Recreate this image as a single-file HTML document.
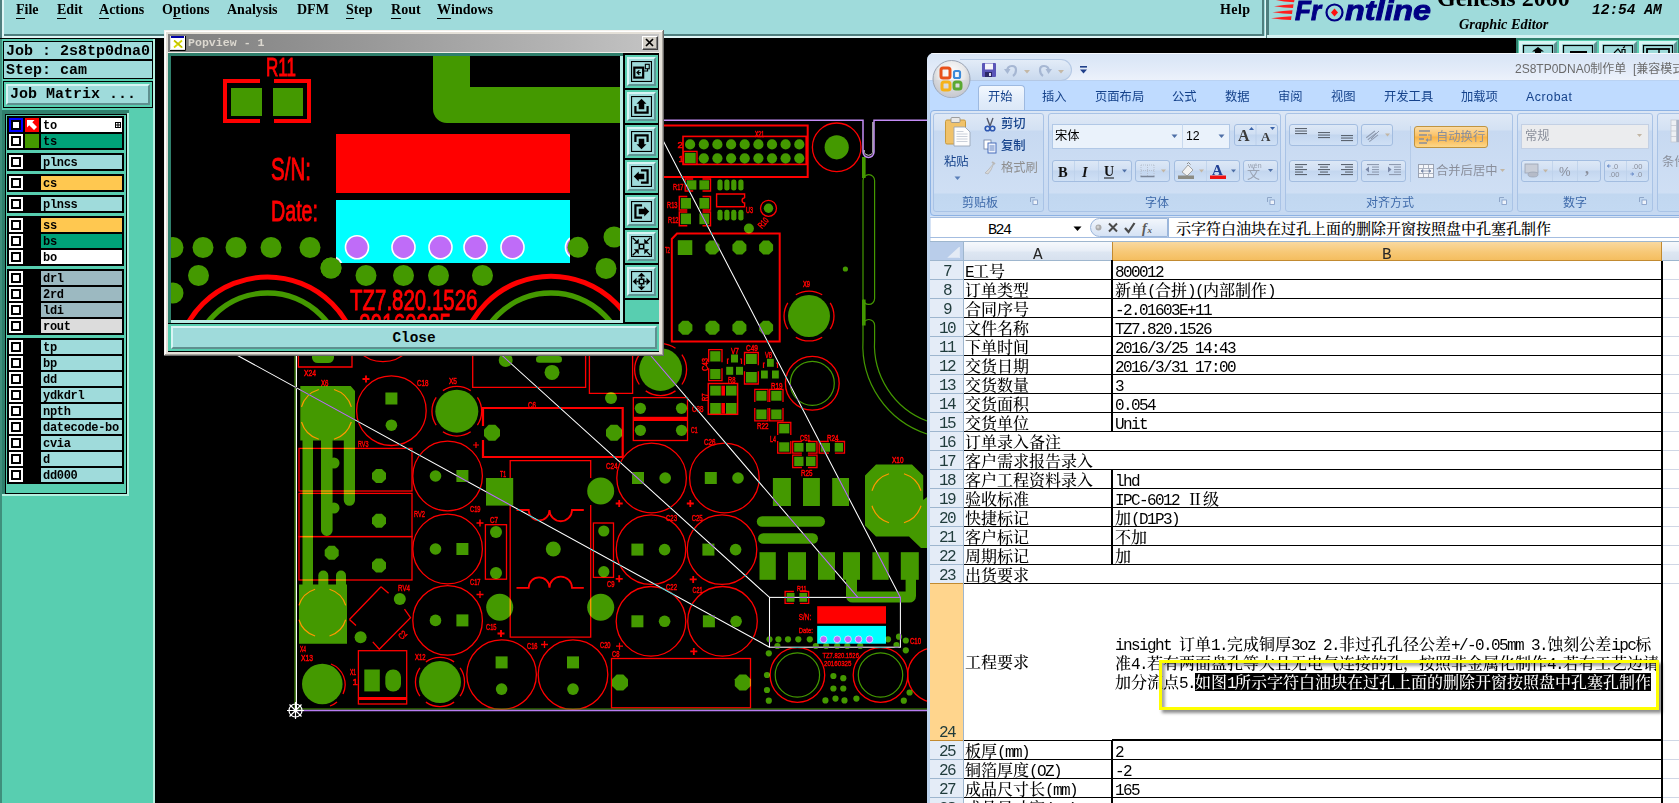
<!DOCTYPE html>
<html lang="zh">
<head>
<meta charset="utf-8">
<title>Genesis 2000 Graphic Editor</title>
<style>
html,body{margin:0;padding:0;background:#000;}
body{width:1679px;height:803px;position:relative;overflow:hidden;font-family:"Liberation Sans","Noto Sans CJK SC",sans-serif;}
.abs{position:absolute;}
div,span,i,b{box-sizing:border-box;}
/* ---------- Genesis menu bar ---------- */
#menubar{position:absolute;left:0;top:0;width:1265px;height:38px;background:#9fdbdb;}
#menubar .m{position:absolute;top:1px;font:bold 14px/18px "Liberation Serif",serif;color:#000;white-space:nowrap;}
#menubar .m u{text-decoration:none;border-bottom:1px solid #000;padding-bottom:0;display:inline-block;line-height:17px;}
#fl{position:absolute;left:1265px;top:0;width:414px;height:38px;background:#9fdbdb;overflow:hidden;}
/* ---------- left panel ---------- */
#left{position:absolute;left:0;top:38px;width:155px;height:765px;background:#58ceb0;overflow:hidden;}
.mono{font-family:"Liberation Mono","DejaVu Sans Mono",monospace;font-weight:bold;color:#000;white-space:nowrap;}
.lay{position:absolute;left:7px;width:117px;background:#000;}
.row{position:absolute;left:0;width:117px;height:14px;}
.row .cb{position:absolute;left:2px;top:0;width:14px;height:14px;background:#fff;}
.row .cb i{position:absolute;left:2px;top:2px;width:10px;height:10px;border:2px solid #000;background:#fff;}
.row .sw{position:absolute;left:18px;top:0;width:14px;height:14px;}
.row .nm{position:absolute;left:34px;top:0;width:81px;height:14px;background:#9fdbdb;font:bold 12px/16px "Liberation Mono",monospace;letter-spacing:-0.3px;padding-left:2px;color:#000;overflow:hidden;white-space:nowrap;}
/* ---------- popview ---------- */
#pop{position:absolute;left:164px;top:30px;width:500px;height:326px;background:#e4e0d8;}
.tb{position:absolute;left:461px;width:33px;height:33px;background:#58ceb0;}
.tb b{position:absolute;left:2px;top:2px;width:29px;height:29px;background:#9fdbdb;border:2px solid;border-color:#d8f4f4 #5f9494 #5f9494 #d8f4f4;}
.tb svg{position:absolute;left:6px;top:6px;}
/* ---------- excel ---------- */
#xl{position:absolute;left:927px;top:53px;width:752px;height:750px;background:#bfdbff;border-top-left-radius:7px;overflow:hidden;font-family:"Liberation Sans","Noto Sans CJK SC",sans-serif;}
.sim{font-family:"Liberation Mono","Noto Serif CJK SC",serif;}
</style>
</head>
<body>
<svg id="pcb" class="abs" style="left:0;top:0" width="1679" height="803" viewBox="0 0 1679 803">
<rect width="1679" height="803" fill="#000"/>
<g font-family="Liberation Sans, sans-serif">
<path d="M312 356H334V358A6 6 0 0 1 328 363H318A6 6 0 0 1 312 358Z" fill="#449900"/>
<path d="M300.3 386H350.7L355 391V500.2A5.6 5.6 0 0 1 343.800 500.2V440.5H332.6V530.2A5.800 5.800 0 0 1 321 530.2V440.5H313V584.5H347V643.7H299V584.5H302.5V440.5H300.3Z" fill="#449900"/>
<circle cx="334.0" cy="463.0" r="5.5" fill="#449900" />
<circle cx="334.0" cy="508.0" r="5.5" fill="#449900" />
<path d="M318.3 585V575.5A5 5 0 0 1 328.3 575.5V585Z" fill="#449900"/><path d="M336 585V575.5A5 5 0 0 1 346 575.5V585Z" fill="#449900"/>
<polygon points="386.0,478.9 381.9,483.0 376.1,483.0 372.0,478.9 372.0,473.1 376.1,469.0 381.9,469.0 386.0,473.1" fill="#449900"/>
<polygon points="386.0,523.6 381.9,527.7 376.1,527.7 372.0,523.6 372.0,517.8 376.1,513.7 381.9,513.7 386.0,517.8" fill="#449900"/>
<polygon points="338.7,555.7 334.6,559.8 328.8,559.8 324.7,555.7 324.7,549.9 328.8,545.8 334.6,545.8 338.7,549.9" fill="#449900"/>
<polygon points="386.0,568.4 381.9,572.5 376.1,572.5 372.0,568.4 372.0,562.6 376.1,558.5 381.9,558.5 386.0,562.6" fill="#449900"/>
<circle cx="322.3" cy="684.0" r="20.3" fill="#449900" />
<circle cx="440.0" cy="682.0" r="21.0" fill="#449900" />
<circle cx="456.8" cy="411.2" r="21.5" fill="#449900" />
<circle cx="399.8" cy="599.0" r="6.0" fill="#449900" />
<circle cx="360.6" cy="637.2" r="6.0" fill="#449900" />
<rect x="364.3" y="669.5" width="15.5" height="21.9" fill="#449900" />
<rect x="385.3" y="669.5" width="15.700" height="21.900" rx="7.500" fill="#449900"/>
<rect x="385.4" y="392.5" width="12.0" height="12.0" fill="#449900" />
<circle cx="391.4" cy="425.2" r="5.8" fill="#449900" />
<circle cx="435.5" cy="476.0" r="5.8" fill="#449900" />
<rect x="456.4" y="470.0" width="12.0" height="12.0" fill="#449900" />
<circle cx="435.5" cy="549.0" r="5.8" fill="#449900" />
<rect x="456.4" y="543.0" width="12.0" height="12.0" fill="#449900" />
<circle cx="435.5" cy="620.4" r="5.8" fill="#449900" />
<rect x="456.4" y="614.4" width="12.0" height="12.0" fill="#449900" />
<rect x="495.6" y="656.4" width="12.0" height="12.0" fill="#449900" />
<circle cx="501.6" cy="689.1" r="5.8" fill="#449900" />
<rect x="567.0" y="656.4" width="12.0" height="12.0" fill="#449900" />
<circle cx="573.0" cy="689.1" r="5.8" fill="#449900" />
<rect x="632.0" y="472.0" width="12.0" height="12.0" fill="#449900" />
<circle cx="665.2" cy="478.0" r="5.8" fill="#449900" />
<rect x="704.8" y="472.0" width="12.0" height="12.0" fill="#449900" />
<circle cx="738.0" cy="478.0" r="5.8" fill="#449900" />
<rect x="631.4" y="543.6" width="12.0" height="12.0" fill="#449900" />
<circle cx="664.6" cy="549.6" r="5.8" fill="#449900" />
<rect x="702.4" y="543.6" width="12.0" height="12.0" fill="#449900" />
<circle cx="735.6" cy="549.6" r="5.8" fill="#449900" />
<rect x="631.4" y="615.3" width="12.0" height="12.0" fill="#449900" />
<circle cx="664.6" cy="621.3" r="5.8" fill="#449900" />
<rect x="702.9" y="615.3" width="12.0" height="12.0" fill="#449900" />
<circle cx="736.1" cy="621.3" r="5.8" fill="#449900" />
<rect x="486.0" y="478.0" width="27.2" height="27.6" fill="#449900" />
<circle cx="600.7" cy="491.0" r="13.5" fill="#449900" />
<circle cx="499.7" cy="607.3" r="13.5" fill="#449900" />
<circle cx="600.7" cy="607.3" r="13.5" fill="#449900" />
<circle cx="553.3" cy="549.0" r="7.5" fill="#449900" />
<circle cx="496.0" cy="532.0" r="6.0" fill="#449900" />
<circle cx="496.0" cy="573.0" r="6.0" fill="#449900" />
<circle cx="603.8" cy="531.0" r="5.6" fill="#449900" />
<circle cx="603.8" cy="571.7" r="5.6" fill="#449900" />
<polygon points="500.0,436.0 495.3,440.7 488.7,440.7 484.0,436.0 484.0,429.4 488.7,424.7 495.3,424.7 500.0,429.4" fill="#449900"/>
<polygon points="622.0,436.0 617.3,440.7 610.7,440.7 606.0,436.0 606.0,429.4 610.7,424.7 617.3,424.7 622.0,429.4" fill="#449900"/>
<circle cx="505.7" cy="360.0" r="7.0" fill="#449900" />
<rect x="536" y="356" width="26" height="6.700" rx="3.300" fill="#449900"/>
<circle cx="552.0" cy="372.4" r="7.5" fill="#449900" />
<circle cx="611.0" cy="398.0" r="6.0" fill="#449900" />
<circle cx="640.4" cy="408.3" r="5.6" fill="#449900" />
<circle cx="640.4" cy="430.3" r="5.6" fill="#449900" />
<circle cx="681.5" cy="408.3" r="5.6" fill="#449900" />
<circle cx="681.5" cy="430.3" r="5.6" fill="#449900" />
<circle cx="660.6" cy="369.6" r="21.4" fill="#449900" />
<circle cx="809.0" cy="316.0" r="21.0" fill="#449900" />
<circle cx="836.7" cy="147.3" r="12.1" fill="#449900" />
<circle cx="845.4" cy="269.0" r="2.6" fill="#449900" />
<polygon points="628.0,685.9 623.3,690.6 616.7,690.6 612.0,685.9 612.0,679.3 616.7,674.6 623.3,674.6 628.0,679.3" fill="#449900"/>
<polygon points="750.8,685.9 746.1,690.6 739.5,690.6 734.8,685.9 734.8,679.3 739.5,674.6 746.1,674.6 750.8,679.3" fill="#449900"/>
<circle cx="690.1" cy="144.4" r="5.1" fill="#449900" />
<circle cx="703.8" cy="144.4" r="5.1" fill="#449900" />
<circle cx="703.8" cy="158.3" r="5.1" fill="#449900" />
<circle cx="717.4" cy="144.4" r="5.1" fill="#449900" />
<circle cx="717.4" cy="158.3" r="5.1" fill="#449900" />
<circle cx="731.1" cy="144.4" r="5.1" fill="#449900" />
<circle cx="731.1" cy="158.3" r="5.1" fill="#449900" />
<circle cx="744.7" cy="144.4" r="5.1" fill="#449900" />
<circle cx="744.7" cy="158.3" r="5.1" fill="#449900" />
<circle cx="758.4" cy="144.4" r="5.1" fill="#449900" />
<circle cx="758.4" cy="158.3" r="5.1" fill="#449900" />
<circle cx="772.0" cy="144.4" r="5.1" fill="#449900" />
<circle cx="772.0" cy="158.3" r="5.1" fill="#449900" />
<circle cx="785.6" cy="144.4" r="5.1" fill="#449900" />
<circle cx="785.6" cy="158.3" r="5.1" fill="#449900" />
<circle cx="799.3" cy="144.4" r="5.1" fill="#449900" />
<circle cx="799.3" cy="158.3" r="5.1" fill="#449900" />
<rect x="684.9" y="152.8" width="10.8" height="10.3" fill="#449900" />
<rect x="686.7" y="180.3" width="9.7" height="9.3" fill="#449900" />
<rect x="699.4" y="180.3" width="9.7" height="9.3" fill="#449900" />
<rect x="680.8" y="198.0" width="10.2" height="10.7" fill="#449900" />
<rect x="699.4" y="198.0" width="9.7" height="10.7" fill="#449900" />
<rect x="680.8" y="213.5" width="10.2" height="10.7" fill="#449900" />
<rect x="699.4" y="213.5" width="9.7" height="10.7" fill="#449900" />
<rect x="717.4" y="179.400" width="5.200" height="11.200" rx="2.400" fill="#449900"/>
<rect x="717.4" y="209.800" width="5.200" height="10.800" rx="2.400" fill="#449900"/>
<rect x="724.3" y="179.400" width="5.200" height="11.200" rx="2.400" fill="#449900"/>
<rect x="724.3" y="209.800" width="5.200" height="10.800" rx="2.400" fill="#449900"/>
<rect x="731.2" y="179.400" width="5.200" height="11.200" rx="2.400" fill="#449900"/>
<rect x="731.2" y="209.800" width="5.200" height="10.800" rx="2.400" fill="#449900"/>
<rect x="738.3" y="179.400" width="5.200" height="11.200" rx="2.400" fill="#449900"/>
<rect x="738.3" y="209.800" width="5.200" height="10.800" rx="2.400" fill="#449900"/>
<circle cx="768.5" cy="208.3" r="4.7" fill="#449900" />
<circle cx="748.9" cy="228.5" r="5.0" fill="#449900" />
<rect x="677.8" y="240.2" width="14.5" height="14.8" fill="#449900" />
<polygon points="719.5,250.5 715.4,254.6 709.6,254.6 705.5,250.5 705.5,244.7 709.6,240.6 715.4,240.6 719.5,244.7" fill="#449900"/>
<polygon points="746.4,250.5 742.3,254.6 736.5,254.6 732.4,250.5 732.4,244.7 736.5,240.6 742.3,240.6 746.4,244.7" fill="#449900"/>
<polygon points="773.1,250.5 769.0,254.6 763.2,254.6 759.1,250.5 759.1,244.7 763.2,240.6 769.0,240.6 773.1,244.7" fill="#449900"/>
<polygon points="692.4,330.6 688.3,334.7 682.5,334.7 678.4,330.6 678.4,324.8 682.5,320.7 688.3,320.7 692.4,324.8" fill="#449900"/>
<polygon points="719.5,330.6 715.4,334.7 709.6,334.7 705.5,330.6 705.5,324.8 709.6,320.7 715.4,320.7 719.5,324.8" fill="#449900"/>
<polygon points="746.4,330.6 742.3,334.7 736.5,334.7 732.4,330.6 732.4,324.8 736.5,320.7 742.3,320.7 746.4,324.8" fill="#449900"/>
<polygon points="773.1,330.6 769.0,334.7 763.2,334.7 759.1,330.6 759.1,324.8 763.2,320.7 769.0,320.7 773.1,324.8" fill="#449900"/>
<rect x="710.2" y="351.2" width="10.2" height="10.3" fill="#449900" />
<rect x="710.2" y="369.0" width="10.2" height="10.2" fill="#449900" />
<rect x="731.0" y="354.5" width="7.0" height="8.0" fill="#449900" />
<rect x="726.2" y="366.8" width="7.0" height="8.0" fill="#449900" />
<rect x="736.0" y="366.8" width="7.0" height="8.0" fill="#449900" />
<rect x="746.0" y="354.0" width="10.8" height="10.0" fill="#449900" />
<rect x="746.0" y="372.0" width="10.8" height="10.6" fill="#449900" />
<rect x="767.0" y="358.8" width="6.8" height="8.0" fill="#449900" />
<rect x="761.0" y="370.5" width="6.8" height="8.0" fill="#449900" />
<rect x="772.0" y="370.5" width="6.8" height="8.0" fill="#449900" />
<rect x="710.2" y="385.7" width="10.6" height="9.9" fill="#449900" />
<rect x="726.0" y="385.7" width="10.5" height="9.9" fill="#449900" />
<rect x="710.2" y="403.0" width="10.6" height="10.7" fill="#449900" />
<rect x="726.0" y="403.0" width="10.5" height="10.7" fill="#449900" />
<rect x="756.3" y="390.8" width="10.2" height="9.9" fill="#449900" />
<rect x="756.3" y="409.5" width="10.2" height="9.8" fill="#449900" />
<rect x="771.2" y="390.8" width="10.3" height="9.9" fill="#449900" />
<rect x="771.2" y="409.5" width="10.3" height="9.8" fill="#449900" />
<rect x="779.2" y="424.0" width="10.1" height="9.4" fill="#449900" />
<rect x="779.2" y="442.3" width="10.1" height="9.4" fill="#449900" />
<rect x="794.2" y="443.0" width="9.3" height="8.7" fill="#449900" />
<rect x="806.0" y="443.0" width="9.5" height="8.7" fill="#449900" />
<rect x="794.2" y="456.7" width="9.3" height="9.3" fill="#449900" />
<rect x="806.0" y="456.7" width="9.5" height="9.3" fill="#449900" />
<rect x="820.7" y="443.0" width="9.3" height="8.7" fill="#449900" />
<rect x="834.7" y="443.0" width="8.3" height="8.7" fill="#449900" />
<rect x="772.9" y="478.0" width="18.0" height="28.0" fill="#449900" />
<rect x="803.0" y="478.0" width="16.9" height="28.0" fill="#449900" />
<rect x="832.2" y="478.0" width="16.8" height="28.0" fill="#449900" />
<rect x="756.800" y="516.200" width="68.200" height="10.600" rx="5.300" fill="#449900"/>
<rect x="758" y="533.200" width="60" height="10.600" rx="5.300" fill="#449900"/>
<rect x="759.5" y="552.2" width="16.3" height="27.6" fill="#449900" />
<rect x="788.0" y="552.2" width="18.0" height="27.6" fill="#449900" />
<rect x="818.0" y="552.2" width="17.0" height="27.6" fill="#449900" />
<rect x="843.0" y="552.2" width="17.0" height="27.6" fill="#449900" />
<rect x="872.4" y="552.2" width="16.3" height="27.6" fill="#449900" />
<rect x="900.8" y="552.2" width="18.0" height="27.6" fill="#449900" />
<path d="M846 578V596A6.600 6.600 0 0 0 852.600 602.600H909.400A6.600 6.600 0 0 0 916 596V578H905.600V591.400H857V578Z" fill="#449900"/>
<polygon points="876,464.4 912,464.4 923.2,475.600 923.2,500 927,497 927,548 921,548 909,536.4 876,536.4 865,525.400 865,475.600" fill="#449900"/>
<rect x="786.6" y="593.0" width="7.9" height="8.8" fill="#449900" />
<rect x="799.4" y="593.0" width="7.8" height="8.8" fill="#449900" />
<circle cx="769.5" cy="639.3" r="3.1" fill="#449900" />
<circle cx="778.4" cy="639.3" r="3.1" fill="#449900" />
<circle cx="788.0" cy="639.3" r="3.1" fill="#449900" />
<circle cx="798.3" cy="639.3" r="3.1" fill="#449900" />
<circle cx="809.8" cy="639.3" r="3.1" fill="#449900" />
<circle cx="888.0" cy="639.3" r="3.1" fill="#449900" />
<circle cx="899.0" cy="636.7" r="3.1" fill="#449900" />
<circle cx="905.8" cy="640.5" r="3.1" fill="#449900" />
<circle cx="777.4" cy="646.0" r="3.1" fill="#449900" />
<circle cx="815.8" cy="646.0" r="3.1" fill="#449900" />
<circle cx="826.2" cy="646.0" r="3.1" fill="#449900" />
<circle cx="837.2" cy="646.0" r="3.1" fill="#449900" />
<circle cx="847.3" cy="646.0" r="3.1" fill="#449900" />
<circle cx="860.2" cy="646.0" r="3.1" fill="#449900" />
<circle cx="896.5" cy="645.0" r="3.1" fill="#449900" />
<circle cx="905.8" cy="650.3" r="3.1" fill="#449900" />
<circle cx="768.8" cy="653.3" r="3.1" fill="#449900" />
<circle cx="767.0" cy="675.0" r="3.1" fill="#449900" />
<circle cx="767.0" cy="690.0" r="3.1" fill="#449900" />
<circle cx="768.8" cy="700.7" r="3.1" fill="#449900" />
<circle cx="833.4" cy="676.0" r="3.1" fill="#449900" />
<circle cx="843.3" cy="678.2" r="3.1" fill="#449900" />
<circle cx="833.4" cy="688.5" r="3.1" fill="#449900" />
<circle cx="843.3" cy="688.5" r="3.1" fill="#449900" />
<circle cx="825.4" cy="700.4" r="3.1" fill="#449900" />
<circle cx="835.5" cy="698.6" r="3.1" fill="#449900" />
<circle cx="844.5" cy="700.4" r="3.1" fill="#449900" />
<circle cx="856.4" cy="698.6" r="3.1" fill="#449900" />
<circle cx="909.6" cy="692.5" r="3.1" fill="#449900" />
<circle cx="903.8" cy="700.7" r="3.1" fill="#449900" />
<circle cx="812.3" cy="383.3" r="22.0" fill="none" stroke="#449900" stroke-width="1.2"/>
<circle cx="797.4" cy="675.0" r="22.2" fill="none" stroke="#449900" stroke-width="1.2"/>
<circle cx="880.5" cy="675.0" r="22.2" fill="none" stroke="#449900" stroke-width="1.2"/>
<rect x="863" y="174.700" width="11.600" height="129.700" rx="5.800" fill="none" stroke="#449900" stroke-width="1.200"/>
<rect x="862.0" y="157.0" width="3.6" height="21.0" fill="#449900" />
<rect x="862.0" y="299.5" width="3.6" height="26.0" fill="#449900" />
<path d="M874.6 340V325.300A5.800 5.800 0 0 0 863 325.300V340" fill="none" stroke="#449900" stroke-width="1.2" />
<path d="M863 340A93.300 93.300 0 0 0 927 434" fill="none" stroke="#449900" stroke-width="1.2" />
<path d="M874.6 340A81.700 81.700 0 0 0 927 421" fill="none" stroke="#449900" stroke-width="1.2" />
<g style="mix-blend-mode:lighten">
<path d="M298.4 356V367H352V356" fill="none" stroke="#ff0000" stroke-width="1.3" />
<path d="M351.3 422.0A26 26 0 0 1 334.0 439.3M318.8 439.3A26 26 0 0 1 301.5 422.0M301.5 406.8A26 26 0 0 1 318.8 389.5M334.0 389.5A26 26 0 0 1 351.3 406.8" fill="none" stroke="#ff0000" stroke-width="1.2" />
<path d="M345.7 619.8A24.5 24.5 0 0 1 329.5 636.0M315.1 636.0A24.5 24.5 0 0 1 298.9 619.8M298.9 605.4A24.5 24.5 0 0 1 315.1 589.2M329.5 589.2A24.5 24.5 0 0 1 345.7 605.4" fill="none" stroke="#ff0000" stroke-width="1.2" />
<path d="M921.0 505.7A25.6 25.6 0 0 1 904.0 522.7M889.0 522.7A25.6 25.6 0 0 1 872.0 505.7M872.0 490.7A25.6 25.6 0 0 1 889.0 473.7M904.0 473.7A25.6 25.6 0 0 1 921.0 490.7" fill="none" stroke="#ff0000" stroke-width="1.2" />
<rect x="299.0" y="448.4" width="113.0" height="42.6" fill="none" stroke="#ff0000" stroke-width="1.3" />
<rect x="299.0" y="493.4" width="113.0" height="43.2" fill="none" stroke="#ff0000" stroke-width="1.3" />
<rect x="299.0" y="536.6" width="113.0" height="43.4" fill="none" stroke="#ff0000" stroke-width="1.3" />
<path d="M381 586.800L349.400 619.500M381 586.800L388.600 593.300M404.500 609.200L410.500 617.600L379.300 649.300L372.800 641.900M349.400 619.500L356 625.500" fill="none" stroke="#ff0000" stroke-width="1.3" />
<rect x="358.4" y="650.7" width="48.3" height="53.3" fill="none" stroke="#ff0000" stroke-width="1.3" />
<path d="M358.400 698.500H406.700" fill="none" stroke="#ff0000" stroke-width="3" />
<path d="M331 664A22 22 0 0 1 343 694" fill="none" stroke="#ff0000" stroke-width="1.3" />
<path d="M337 702A22 22 0 0 1 330 706" fill="none" stroke="#ff0000" stroke-width="1.3" />
<path d="M460.1 667.9A24.5 24.5 0 0 1 460.1 696.1M454.1 702.1A24.5 24.5 0 0 1 425.9 702.1M419.9 696.1A24.5 24.5 0 0 1 419.9 667.9M425.9 661.9A24.5 24.5 0 0 1 454.1 661.9" fill="none" stroke="#ff0000" stroke-width="1.3" />
<path d="M477.4 397.3A24.8 24.8 0 0 1 477.4 425.1M470.7 431.8A24.8 24.8 0 0 1 442.9 431.8M436.2 425.1A24.8 24.8 0 0 1 436.2 397.3M442.9 390.6A24.8 24.8 0 0 1 470.7 390.6" fill="none" stroke="#ff0000" stroke-width="1.3" />
<path d="M681.9 354.7A26 26 0 0 1 681.9 384.5M675.5 390.9A26 26 0 0 1 645.7 390.9M639.3 384.5A26 26 0 0 1 639.3 354.7M645.7 348.3A26 26 0 0 1 675.5 348.3" fill="none" stroke="#ff0000" stroke-width="1.3" />
<path d="M830.2 302.8A25 25 0 0 1 830.2 329.2M822.2 337.2A25 25 0 0 1 795.8 337.2M787.8 329.2A25 25 0 0 1 787.8 302.8M795.8 294.8A25 25 0 0 1 822.2 294.8" fill="none" stroke="#ff0000" stroke-width="1.3" />
<circle cx="391.4" cy="410.7" r="34.8" fill="none" stroke="#ff0000" stroke-width="1.3"/>
<circle cx="447.6" cy="476.0" r="34.8" fill="none" stroke="#ff0000" stroke-width="1.3"/>
<circle cx="447.6" cy="549.0" r="34.8" fill="none" stroke="#ff0000" stroke-width="1.3"/>
<circle cx="447.6" cy="620.4" r="34.8" fill="none" stroke="#ff0000" stroke-width="1.3"/>
<circle cx="501.6" cy="674.6" r="34.8" fill="none" stroke="#ff0000" stroke-width="1.3"/>
<circle cx="573.0" cy="674.6" r="34.8" fill="none" stroke="#ff0000" stroke-width="1.3"/>
<circle cx="651.6" cy="478.0" r="34.8" fill="none" stroke="#ff0000" stroke-width="1.3"/>
<circle cx="724.4" cy="478.0" r="34.8" fill="none" stroke="#ff0000" stroke-width="1.3"/>
<circle cx="651.0" cy="549.6" r="34.8" fill="none" stroke="#ff0000" stroke-width="1.3"/>
<circle cx="722.0" cy="549.6" r="34.8" fill="none" stroke="#ff0000" stroke-width="1.3"/>
<circle cx="651.0" cy="621.3" r="34.8" fill="none" stroke="#ff0000" stroke-width="1.3"/>
<circle cx="722.5" cy="621.3" r="34.8" fill="none" stroke="#ff0000" stroke-width="1.3"/>
<circle cx="383.0" cy="326.8" r="34.8" fill="none" stroke="#ff0000" stroke-width="1.3"/>
<path d="M472.700 356V387.300H585.600V356" fill="none" stroke="#ff0000" stroke-width="1.3" />
<path d="M589.400 356V393.400H632.600V356" fill="none" stroke="#ff0000" stroke-width="1.3" />
<path d="M483 426V408H622.700V457H483V440" fill="none" stroke="#ff0000" stroke-width="2.2" />
<path d="M510.200 478V460.600H590.700V478M590.700 505V637.200H510.200V505.600" fill="none" stroke="#ff0000" stroke-width="1.3" />
<path d="M516.500 510H528.700A10.400 10.400 0 0 0 549.500 510A11.200 11.200 0 0 0 572 510H583.800" fill="none" stroke="#ff0000" stroke-width="1.8" />
<path d="M516.500 587.800H528.700A10.400 10.400 0 0 1 549.500 587.800A11.200 11.200 0 0 1 572 587.800H583.800" fill="none" stroke="#ff0000" stroke-width="1.8" />
<rect x="485.4" y="524.7" width="21.1" height="54.5" fill="none" stroke="#ff0000" stroke-width="1.3" />
<rect x="593.4" y="523.0" width="20.1" height="54.4" fill="none" stroke="#ff0000" stroke-width="1.3" />
<rect x="633.3" y="397.6" width="54.2" height="42.9" fill="none" stroke="#ff0000" stroke-width="1.3" />
<rect x="633.3" y="416.8" width="54.2" height="4.2" fill="#ff0000" />
<rect x="611.5" y="658.5" width="139.0" height="49.3" fill="none" stroke="#ff0000" stroke-width="1.3" />
<circle cx="812.3" cy="383.3" r="26.9" fill="none" stroke="#ff0000" stroke-width="1.3"/>
<circle cx="797.4" cy="675.0" r="27.3" fill="none" stroke="#ff0000" stroke-width="1.3"/>
<circle cx="880.5" cy="675.0" r="27.3" fill="none" stroke="#ff0000" stroke-width="1.3"/>
<circle cx="935.0" cy="675.0" r="27.3" fill="none" stroke="#ff0000" stroke-width="1.3"/>
<circle cx="836.7" cy="147.3" r="24.3" fill="none" stroke="#ff0000" stroke-width="1.3"/>
<path d="M664 125.600H807.700V177.100H664" fill="none" stroke="#ff0000" stroke-width="2" />
<rect x="683.0" y="136.4" width="123.2" height="28.0" fill="none" stroke="#ff0000" stroke-width="1.6" />
<rect x="683.6" y="151.4" width="13.4" height="13.0" fill="none" stroke="#ff0000" stroke-width="1.3" />
<path d="M693.2 179H685.2V191H693.2M702.5 179H710.5V191H702.5" fill="none" stroke="#ff0000" stroke-width="1.4" />
<path d="M687.3 196.5H679.3V210H687.3M702.5 196.5H710.5V210H702.5" fill="none" stroke="#ff0000" stroke-width="1.4" />
<path d="M687.3 212H679.3V225.7H687.3M702.5 212H710.5V225.7H702.5" fill="none" stroke="#ff0000" stroke-width="1.4" />
<path d="M744.600 198V194H716.600V206.800H744.600V203A2.500 2.500 0 0 1 744.600 198" fill="none" stroke="#ff0000" stroke-width="1.4" />
<circle cx="768.5" cy="208.3" r="8.0" fill="none" stroke="#ff0000" stroke-width="1.3"/>
<path d="M677 233.600H779.700V341.400H671.800V239Z" fill="none" stroke="#ff0000" stroke-width="2" />
<path d="M708.7 362.2V349.7H722V362.2M708.7 368.2V380.7H722V368.2" fill="none" stroke="#ff0000" stroke-width="1.3" />
<path d="M744.5 365.2V352.5H758.3V365.2M744.5 371.2V384H758.3V371.2" fill="none" stroke="#ff0000" stroke-width="1.3" />
<path d="M729 359H727.500V364M740 359H741.500V364" fill="none" stroke="#ff0000" stroke-width="1.2" />
<path d="M765 363H763.500V368M776 363H777.500V368" fill="none" stroke="#ff0000" stroke-width="1.2" />
<rect x="708.3" y="383.5" width="29.3" height="30.8" fill="none" stroke="#ff0000" stroke-width="1.5" />
<rect x="721.4" y="385.7" width="3.6" height="9.9" fill="#ff0000" />
<rect x="721.4" y="403.0" width="3.6" height="10.7" fill="#ff0000" />
<path d="M754.8 402.1V389.3H768V402.1M754.8 408.1V420.8H768V408.1" fill="none" stroke="#ff0000" stroke-width="1.3" />
<path d="M769.7 402.1V389.3H783V402.1M769.7 408.1V420.8H783V408.1" fill="none" stroke="#ff0000" stroke-width="1.3" />
<path d="M777.7 434.9V422.5H790.8V434.9M777.7 440.9V453.2H790.8V440.9" fill="none" stroke="#ff0000" stroke-width="1.3" />
<path d="M801.9 441.5H792.7V453.2H801.9M807.9 441.5H817V453.2H807.9" fill="none" stroke="#ff0000" stroke-width="1.3" />
<path d="M801.9 455.2H792.7V467.5H801.9M807.9 455.2H817V467.5H807.9" fill="none" stroke="#ff0000" stroke-width="1.3" />
<path d="M828.9 441.5H819.2V453.2H828.9M834.9 441.5H844.5V453.2H834.9" fill="none" stroke="#ff0000" stroke-width="1.3" />
<path d="M793.9 591.5H785.1V603.3H793.9M799.9 591.5H808.7V603.3H799.9" fill="none" stroke="#ff0000" stroke-width="1.3" />
<rect x="817.2" y="606.2" width="68.8" height="17.4" fill="#ff0000" />
<rect x="817.2" y="625.9" width="68.8" height="17.8" fill="#00ffff" />
<circle cx="823.6" cy="639.3" r="3.4" fill="#bb66ff" stroke="#fff" stroke-width="0.600"/>
<circle cx="837.2" cy="639.3" r="3.4" fill="#bb66ff" stroke="#fff" stroke-width="0.600"/>
<circle cx="848.0" cy="639.3" r="3.4" fill="#bb66ff" stroke="#fff" stroke-width="0.600"/>
<circle cx="858.5" cy="639.3" r="3.4" fill="#bb66ff" stroke="#fff" stroke-width="0.600"/>
<circle cx="869.5" cy="639.3" r="3.4" fill="#bb66ff" stroke="#fff" stroke-width="0.600"/>
<text x="304" y="375.5" font-size="9" fill="#ff0000" stroke="#ff0000" stroke-width="0.5" textLength="12" lengthAdjust="spacingAndGlyphs">X24</text>
<text x="321" y="385.5" font-size="9" fill="#ff0000" stroke="#ff0000" stroke-width="0.5" textLength="7.5" lengthAdjust="spacingAndGlyphs">X6</text>
<text x="417" y="386" font-size="9" fill="#ff0000" stroke="#ff0000" stroke-width="0.5" textLength="11.5" lengthAdjust="spacingAndGlyphs">C18</text>
<text x="449" y="384" font-size="9" fill="#ff0000" stroke="#ff0000" stroke-width="0.5" textLength="8" lengthAdjust="spacingAndGlyphs">X5</text>
<text x="358" y="447" font-size="9" fill="#ff0000" stroke="#ff0000" stroke-width="0.5" textLength="10.5" lengthAdjust="spacingAndGlyphs">RV3</text>
<text x="414" y="516.5" font-size="9" fill="#ff0000" stroke="#ff0000" stroke-width="0.5" textLength="11" lengthAdjust="spacingAndGlyphs">RV2</text>
<text x="398" y="591" font-size="9" fill="#ff0000" stroke="#ff0000" stroke-width="0.5" textLength="12" lengthAdjust="spacingAndGlyphs">RV4</text>
<text x="470" y="512" font-size="9" fill="#ff0000" stroke="#ff0000" stroke-width="0.5" textLength="10.5" lengthAdjust="spacingAndGlyphs">C19</text>
<text x="470" y="585" font-size="9" fill="#ff0000" stroke="#ff0000" stroke-width="0.5" textLength="10.5" lengthAdjust="spacingAndGlyphs">C17</text>
<text x="486" y="630" font-size="9" fill="#ff0000" stroke="#ff0000" stroke-width="0.5" textLength="10.5" lengthAdjust="spacingAndGlyphs">C15</text>
<text x="527" y="649" font-size="9" fill="#ff0000" stroke="#ff0000" stroke-width="0.5" textLength="10.5" lengthAdjust="spacingAndGlyphs">C16</text>
<text x="490" y="523" font-size="9" fill="#ff0000" stroke="#ff0000" stroke-width="0.5" textLength="8" lengthAdjust="spacingAndGlyphs">C7</text>
<text x="528" y="408" font-size="9" fill="#ff0000" stroke="#ff0000" stroke-width="0.5" textLength="8" lengthAdjust="spacingAndGlyphs">C6</text>
<text x="500" y="477" font-size="9" fill="#ff0000" stroke="#ff0000" stroke-width="0.5" textLength="6" lengthAdjust="spacingAndGlyphs">T1</text>
<text x="300" y="651.5" font-size="9" fill="#ff0000" stroke="#ff0000" stroke-width="0.5" textLength="6" lengthAdjust="spacingAndGlyphs">X4</text>
<text x="301" y="661" font-size="9" fill="#ff0000" stroke="#ff0000" stroke-width="0.5" textLength="12" lengthAdjust="spacingAndGlyphs">X13</text>
<text x="415" y="660" font-size="9" fill="#ff0000" stroke="#ff0000" stroke-width="0.5" textLength="10.5" lengthAdjust="spacingAndGlyphs">X12</text>
<text x="350" y="675" font-size="8.5" fill="#ff0000" stroke="#ff0000" stroke-width="0.5" textLength="6" lengthAdjust="spacingAndGlyphs">X1</text>
<text x="352.5" y="684.5" font-size="9.5" fill="#ff0000" stroke="#ff0000" stroke-width="0.5">1</text>
<text x="402" y="640" font-size="9" fill="#ff0000" stroke="#ff0000" stroke-width="0.5" textLength="8" lengthAdjust="spacingAndGlyphs" transform="rotate(-45 402 640)">C2</text>
<text x="606" y="469" font-size="9" fill="#ff0000" stroke="#ff0000" stroke-width="0.5" textLength="11.5" lengthAdjust="spacingAndGlyphs">C24</text>
<text x="704" y="445" font-size="9" fill="#ff0000" stroke="#ff0000" stroke-width="0.5" textLength="11.5" lengthAdjust="spacingAndGlyphs">C26</text>
<text x="692" y="412" font-size="9" fill="#ff0000" stroke="#ff0000" stroke-width="0.5" textLength="11.5" lengthAdjust="spacingAndGlyphs">C38</text>
<text x="691" y="433" font-size="9" fill="#ff0000" stroke="#ff0000" stroke-width="0.5" textLength="6.5" lengthAdjust="spacingAndGlyphs">C1</text>
<text x="666" y="520.5" font-size="9" fill="#ff0000" stroke="#ff0000" stroke-width="0.5" textLength="11" lengthAdjust="spacingAndGlyphs">C23</text>
<text x="691.7" y="521" font-size="9" fill="#ff0000" stroke="#ff0000" stroke-width="0.5" textLength="11" lengthAdjust="spacingAndGlyphs">C25</text>
<text x="666" y="589.5" font-size="9" fill="#ff0000" stroke="#ff0000" stroke-width="0.5" textLength="11" lengthAdjust="spacingAndGlyphs">C22</text>
<text x="692.6" y="593" font-size="9" fill="#ff0000" stroke="#ff0000" stroke-width="0.5" textLength="10" lengthAdjust="spacingAndGlyphs">C21</text>
<text x="607" y="587" font-size="9" fill="#ff0000" stroke="#ff0000" stroke-width="0.5" textLength="7.5" lengthAdjust="spacingAndGlyphs">C9</text>
<text x="612" y="657" font-size="9" fill="#ff0000" stroke="#ff0000" stroke-width="0.5" textLength="7.5" lengthAdjust="spacingAndGlyphs">C8</text>
<text x="600" y="648" font-size="9" fill="#ff0000" stroke="#ff0000" stroke-width="0.5" textLength="10.5" lengthAdjust="spacingAndGlyphs">C20</text>
<text x="755" y="137" font-size="8.5" fill="#ff0000" stroke="#ff0000" stroke-width="0.5" textLength="9" lengthAdjust="spacingAndGlyphs">X21</text>
<text x="677.5" y="148" font-size="9.5" fill="#ff0000" stroke="#ff0000" stroke-width="0.5">2</text>
<text x="678.5" y="162" font-size="9.5" fill="#ff0000" stroke="#ff0000" stroke-width="0.5">1</text>
<text x="673" y="190" font-size="9" fill="#ff0000" stroke="#ff0000" stroke-width="0.5" textLength="10.5" lengthAdjust="spacingAndGlyphs">R17</text>
<text x="667" y="208" font-size="9" fill="#ff0000" stroke="#ff0000" stroke-width="0.5" textLength="10.5" lengthAdjust="spacingAndGlyphs">R13</text>
<text x="668" y="223" font-size="9" fill="#ff0000" stroke="#ff0000" stroke-width="0.5" textLength="10.5" lengthAdjust="spacingAndGlyphs">R12</text>
<text x="746" y="213" font-size="9" fill="#ff0000" stroke="#ff0000" stroke-width="0.5" textLength="7" lengthAdjust="spacingAndGlyphs">U3</text>
<text x="762" y="229" font-size="9" fill="#ff0000" stroke="#ff0000" stroke-width="0.5" textLength="11" lengthAdjust="spacingAndGlyphs" transform="rotate(-50 762 229)">R10</text>
<text x="665" y="253" font-size="8.5" fill="#ff0000" stroke="#ff0000" stroke-width="0.5" textLength="5" lengthAdjust="spacingAndGlyphs">T2</text>
<text x="803" y="287" font-size="8.5" fill="#ff0000" stroke="#ff0000" stroke-width="0.5" textLength="7" lengthAdjust="spacingAndGlyphs">X9</text>
<text x="892" y="463" font-size="8.5" fill="#ff0000" stroke="#ff0000" stroke-width="0.5" textLength="11.5" lengthAdjust="spacingAndGlyphs">X10</text>
<text x="708" y="371" font-size="8.5" fill="#ff0000" stroke="#ff0000" stroke-width="0.5" textLength="13" lengthAdjust="spacingAndGlyphs" transform="rotate(-90 708 371)">C43</text>
<text x="731" y="354" font-size="8.5" fill="#ff0000" stroke="#ff0000" stroke-width="0.5" textLength="8" lengthAdjust="spacingAndGlyphs">V7</text>
<text x="746" y="351" font-size="8.5" fill="#ff0000" stroke="#ff0000" stroke-width="0.5" textLength="12" lengthAdjust="spacingAndGlyphs">C49</text>
<text x="765" y="358" font-size="8.5" fill="#ff0000" stroke="#ff0000" stroke-width="0.5" textLength="7" lengthAdjust="spacingAndGlyphs">V8</text>
<text x="728" y="383" font-size="8.5" fill="#ff0000" stroke="#ff0000" stroke-width="0.5" textLength="7.5" lengthAdjust="spacingAndGlyphs">R8</text>
<text x="708" y="401" font-size="8.5" fill="#ff0000" stroke="#ff0000" stroke-width="0.5" textLength="7.5" lengthAdjust="spacingAndGlyphs" transform="rotate(-90 708 401)">R7</text>
<text x="771" y="389" font-size="8.5" fill="#ff0000" stroke="#ff0000" stroke-width="0.5" textLength="11.5" lengthAdjust="spacingAndGlyphs">R19</text>
<text x="757" y="429" font-size="8.5" fill="#ff0000" stroke="#ff0000" stroke-width="0.5" textLength="11.5" lengthAdjust="spacingAndGlyphs">R22</text>
<text x="770" y="442" font-size="8.5" fill="#ff0000" stroke="#ff0000" stroke-width="0.5" textLength="6" lengthAdjust="spacingAndGlyphs">L4</text>
<text x="800" y="441" font-size="8.5" fill="#ff0000" stroke="#ff0000" stroke-width="0.5" textLength="10.5" lengthAdjust="spacingAndGlyphs">C51</text>
<text x="827" y="441" font-size="8.5" fill="#ff0000" stroke="#ff0000" stroke-width="0.5" textLength="11.5" lengthAdjust="spacingAndGlyphs">R24</text>
<text x="801" y="475.5" font-size="8.5" fill="#ff0000" stroke="#ff0000" stroke-width="0.5" textLength="11.5" lengthAdjust="spacingAndGlyphs">R25</text>
<text x="797" y="590.5" font-size="8" fill="#ff0000" stroke="#ff0000" stroke-width="0.5" textLength="9.5" lengthAdjust="spacingAndGlyphs">R11</text>
<text x="910" y="644" font-size="8.5" fill="#ff0000" stroke="#ff0000" stroke-width="0.5" textLength="11" lengthAdjust="spacingAndGlyphs">C10</text>
<text x="798.8" y="620" font-size="8.5" fill="#ff0000" stroke="#ff0000" stroke-width="0.4" textLength="12.5" lengthAdjust="spacingAndGlyphs">S/N:</text>
<text x="798.8" y="632.5" font-size="8" fill="#ff0000" stroke="#ff0000" stroke-width="0.4" textLength="14" lengthAdjust="spacingAndGlyphs">Date:</text>
<text x="822.4" y="658" font-size="7" fill="#ff0000" stroke="#ff0000" stroke-width="0.35" textLength="36.5" lengthAdjust="spacingAndGlyphs">TZ7.820.1526</text>
<text x="824" y="666" font-size="7" fill="#ff0000" stroke="#ff0000" stroke-width="0.35" textLength="27.5" lengthAdjust="spacingAndGlyphs">20160325</text>
<path d="M362.5 379H369.5M366 375.5V382.5" fill="none" stroke="#ff0000" stroke-width="1.8" />
<path d="M473 445H479M476 442V448" fill="none" stroke="#ff0000" stroke-width="1.2" />
<path d="M476.5 523H483.5M480 519.5V526.5" fill="none" stroke="#ff0000" stroke-width="1.5" />
<path d="M476.5 594.5H483.5M480 591.0V598.0" fill="none" stroke="#ff0000" stroke-width="1.3" />
<path d="M497.5 633.5H504.5M501 630.0V637.0" fill="none" stroke="#ff0000" stroke-width="1.9" />
<path d="M541.0 644.5H548.0M544.5 641.0V648.0" fill="none" stroke="#ff0000" stroke-width="1.3" />
<path d="M615.7 503.5H622.7M619.2 500.0V507.0" fill="none" stroke="#ff0000" stroke-width="1.8" />
<path d="M686.8 503.5H693.8M690.3 500.0V507.0" fill="none" stroke="#ff0000" stroke-width="1.8" />
<path d="M615.7 578.8H622.7M619.2 575.3V582.3" fill="none" stroke="#ff0000" stroke-width="1.8" />
<path d="M689.7 579.4H696.7M693.2 575.9V582.9" fill="none" stroke="#ff0000" stroke-width="1.8" />
<path d="M616.0 646.2H623.0M619.5 642.7V649.7" fill="none" stroke="#ff0000" stroke-width="1.2" />
<path d="M690.3 651.4H697.3M693.8 647.9V654.9" fill="none" stroke="#ff0000" stroke-width="1.8" />
</g>
</g>
<path d="M296.300 356V710" stroke="#fff" stroke-width="1.400" fill="none"/>
<path d="M295 356V710" stroke="#449900" stroke-width="1" fill="none"/>
<path d="M297 709H927" stroke="#449900" stroke-width="1.200" fill="none"/>
<path d="M295 710.500H927" stroke="#b77cf2" stroke-width="1.600" fill="none"/>
<path d="M664 120.200H863V152A5.500 5.500 0 0 0 874 152V120.200H927" stroke="#c48cf6" stroke-width="1.500" fill="none"/>
<path d="M864.200 150V152.500A4.700 4.700 0 0 0 872.800 152.500V122" stroke="#fff" stroke-width="1" fill="none" opacity="0.85"/>
<g stroke="#fff" stroke-width="1.200" fill="none"><circle cx="295.500" cy="710.500" r="6.500"/><path d="M287 710.500H304M295.500 702V719M289.500 704.500L301.500 716.500M301.500 704.500L289.500 716.500"/></g>
<clipPath id="outrect"><path d="M0 0H1679V803H0ZM769.500 597.400V647.200H900.400V597.400Z" clip-rule="evenodd"/></clipPath>
<g style="mix-blend-mode:difference" stroke="#fff" stroke-width="1.050" fill="none">
<g clip-path="url(#outrect)"><path d="M171 56L769.500 597.400M171 319L769.500 647.200M619.200 56L900.400 597.400M619.500 319L900.400 647.200"/></g>
<rect x="769.500" y="597.400" width="130.900" height="49.800"/>
</g>
</svg>
<div class="abs" style="left:1516px;top:38px;width:163px;height:15px;background:#2f7f6c;overflow:hidden">
<div class="abs" style="left:2px;top:2px;width:160px;height:14px;background:#58ceb0"></div>
<div class="abs" style="left:3px;top:3px;width:38px;height:20px;background:#9fdbdb;border:3px solid;border-color:#d8f4f4 #5f9494 #5f9494 #d8f4f4"></div>
<div class="abs" style="left:43px;top:3px;width:38px;height:20px;background:#9fdbdb;border:3px solid;border-color:#d8f4f4 #5f9494 #5f9494 #d8f4f4"></div>
<div class="abs" style="left:83px;top:3px;width:38px;height:20px;background:#9fdbdb;border:3px solid;border-color:#d8f4f4 #5f9494 #5f9494 #d8f4f4"></div>
<div class="abs" style="left:123px;top:3px;width:38px;height:20px;background:#9fdbdb;border:3px solid;border-color:#d8f4f4 #5f9494 #5f9494 #d8f4f4"></div>
<svg class="abs" style="left:0;top:0" width="163" height="15" viewBox="1516 38 163 15">
<g fill="none" stroke="#000" stroke-width="1.2"><rect x="1523.5" y="45.5" width="29" height="12"/><rect x="1563.500" y="45.500" width="29" height="12"/><rect x="1603.500" y="45.500" width="29" height="12"/><rect x="1643.500" y="45.500" width="29" height="12"/></g>
<path d="M1538 47L1544 51.500H1532Z" fill="#000"/><rect x="1535" y="50" width="6" height="4" fill="#000"/>
<rect x="1570" y="51" width="17" height="3" fill="#000"/>
<path d="M1614 53L1618 49L1621 53" fill="none" stroke="#000" stroke-width="1.200"/><path d="M1622 53V49.500H1625V53M1623 48L1625 46.500" fill="none" stroke="#000" stroke-width="1.200"/>
<rect x="1647" y="49" width="22" height="6" fill="none" stroke="#000" stroke-width="1.800"/><path d="M1659 49V54" stroke="#000" stroke-width="1.500"/>
</svg>
</div>
<div id="menubar">
<div class="abs" style="left:0;top:0;width:2px;height:38px;background:#4f7f7f"></div>
<div class="abs" style="left:2px;top:0;width:2px;height:36px;background:#dff6f6"></div>
<div class="abs" style="left:4px;top:34px;width:1259px;height:2px;background:#4f7f7f"></div>
<div class="abs" style="left:2px;top:36px;width:1263px;height:2px;background:#dff6f6"></div>
<div class="abs" style="left:1262px;top:0;width:2px;height:36px;background:#4f7f7f"></div>
<div class="m" style="left:16px"><u>F</u>ile</div>
<div class="m" style="left:57px"><u>E</u>dit</div>
<div class="m" style="left:99px"><u>A</u>ctions</div>
<div class="m" style="left:162px">O<u>p</u>tions</div>
<div class="m" style="left:227px">Analysis</div>
<div class="m" style="left:297px">DFM</div>
<div class="m" style="left:346px"><u>S</u>tep</div>
<div class="m" style="left:391px"><u>R</u>out</div>
<div class="m" style="left:437px"><u>W</u>indows</div>
<div class="m" style="left:1220px;letter-spacing:0.4px">Help</div>
</div>
<div id="fl">
<div class="abs" style="left:0;top:0;width:1px;height:38px;background:#dff6f6"></div>
<div class="abs" style="left:1px;top:0;width:3px;height:38px;background:#4f7f7f"></div>
<div class="abs" style="left:2px;top:35px;width:412px;height:3px;background:#d4f2f2"></div>
<svg class="abs" style="left:0;top:0" width="414" height="38" viewBox="1265 0 414 38">
<g fill="#ff1e1e">
<polygon points="1276,0 1294.5,0 1294,2.2 1284,1.6"/>
<polygon points="1274,6.3 1284,5 1293.5,4.2 1293,8 1284,7.4"/>
<polygon points="1272.5,12.3 1283,11 1292.5,10.200 1292,14 1283,13.400"/>
<polygon points="1271,18.300 1282,17 1291.500,16.200 1291,20 1282,19.400"/>
</g>
<text x="1295" y="19.5" font-family="Liberation Sans, sans-serif" font-weight="bold" font-style="italic" font-size="27" fill="#000084" stroke="#000084" stroke-width="0.9" textLength="26" lengthAdjust="spacingAndGlyphs">Fr</text>
<circle cx="1334.5" cy="12.5" r="8" fill="none" stroke="#000084" stroke-width="2.2"/>
<polygon points="1334.5,8.5 1338,12.5 1334.5,16.5 1331,12.5" fill="#ff1010"/>
<text x="1345" y="19.5" font-family="Liberation Sans, sans-serif" font-weight="bold" font-style="italic" font-size="27" fill="#000084" stroke="#000084" stroke-width="0.9" textLength="86" lengthAdjust="spacingAndGlyphs">ntline</text>
<text x="1437" y="5.5" font-family="Liberation Serif, serif" font-weight="bold" font-size="24" fill="#000">Genesis 2000</text>
<text x="1459" y="28.5" font-family="Liberation Serif, serif" font-weight="bold" font-style="italic" font-size="14.3" fill="#000">Graphic Editor</text>
<text x="1592" y="13.5" font-family="Liberation Mono, monospace" font-weight="bold" font-style="italic" font-size="14.5" fill="#000">12:54 AM</text>
</svg>
</div>
<div id="left">
<div class="abs" style="left:0;top:0;width:2px;height:765px;background:#3f8f7c"></div>
<div class="abs" style="left:0;top:0;width:155px;height:1px;background:#000"></div>
<div class="abs" style="left:153px;top:1px;width:2px;height:764px;background:#b4f0e0"></div>
<div class="abs" style="left:3px;top:3px;width:150px;height:20px;background:#9fdbdb;border:1px solid #000;border-bottom-width:2px;"></div>
<div class="abs mono" style="left:6px;top:5px;font-size:15px;line-height:17px">Job : 2s8tp0dna0</div>
<div class="abs" style="left:3px;top:22px;width:150px;height:19px;background:#9fdbdb;border:1px solid #000;"></div>
<div class="abs mono" style="left:6px;top:24px;font-size:15px;line-height:17px">Step: cam</div>
<div class="abs" style="left:3px;top:43px;width:150px;height:27px;background:#58ceb0;border:1px solid #000;"></div>
<div class="abs" style="left:6px;top:46px;width:144px;height:21px;background:#9fdbdb;border:2px solid;border-color:#d8f4f4 #5f8f8f #5f8f8f #d8f4f4;"></div>
<div class="abs mono" style="left:10px;top:48px;font-size:15px;line-height:17px">Job Matrix ...</div>
<div class="abs" style="left:2px;top:72px;width:127px;height:4px;background:#2f7f6c;"></div>
<div class="abs" style="left:2px;top:72px;width:3px;height:385px;background:#2f7f6c;"></div>
<div class="abs" style="left:2px;top:456px;width:127px;height:2px;background:#b4f0e0;"></div>
<div class="abs" style="left:127px;top:75px;width:2px;height:383px;background:#b4f0e0;"></div>
<div class="abs" style="left:5px;top:76px;width:122px;height:380px;background:#58ceb0;border:1px solid #000;"></div>
<div class="lay" style="top:78px;height:34px">
<div class="row" style="top:2px">
<span class="cb" style="background:#0000ff"><i></i></span>
<span class="sw" style="background:#ff0000"><svg width="14" height="14" viewBox="0 0 14 14" style="position:absolute;left:0;top:0"><path d="M2 2 L9.5 2 L7.3 4.2 L12 9 L9 12 L4.2 7.3 L2 9.5 Z" fill="#fff"/></svg></span>
<span class="nm" style="background:#fff">to<svg width="6" height="6" viewBox="0 0 6 6" style="position:absolute;left:74px;top:4px"><rect x="0" y="0" width="6" height="6" fill="#000"/><rect x="1" y="1" width="1.5" height="1.5" fill="#fff"/><rect x="3.5" y="1" width="1.5" height="1.5" fill="#fff"/><rect x="1" y="3.5" width="1.5" height="1.5" fill="#fff"/><rect x="3.5" y="3.5" width="1.5" height="1.5" fill="#fff"/></svg></span>
</div>
<div class="row" style="top:18px">
<span class="cb"><i></i></span><span class="sw" style="background:#449900"></span>
<span class="nm" style="background:#00a278">ts</span>
</div>
</div>
<div class="lay" style="top:115px;height:18px">
<div class="row" style="top:2px">
<span class="cb"><i></i></span>
<span class="nm" style="background:#9fdbdb">plncs</span>
</div>
</div>
<div class="lay" style="top:136px;height:18px">
<div class="row" style="top:2px">
<span class="cb"><i></i></span>
<span class="nm" style="background:#ffc850">cs</span>
</div>
</div>
<div class="lay" style="top:157px;height:18px">
<div class="row" style="top:2px">
<span class="cb"><i></i></span>
<span class="nm" style="background:#9fdbdb">plnss</span>
</div>
</div>
<div class="lay" style="top:178px;height:50px">
<div class="row" style="top:2px">
<span class="cb"><i></i></span>
<span class="nm" style="background:#ffc850">ss</span>
</div>
<div class="row" style="top:18px">
<span class="cb"><i></i></span>
<span class="nm" style="background:#00a278">bs</span>
</div>
<div class="row" style="top:34px">
<span class="cb"><i></i></span>
<span class="nm" style="background:#fff">bo</span>
</div>
</div>
<div class="lay" style="top:231px;height:66px">
<div class="row" style="top:2px">
<span class="cb"><i></i></span>
<span class="nm" style="background:#9cb9c1">drl</span>
</div>
<div class="row" style="top:18px">
<span class="cb"><i></i></span>
<span class="nm" style="background:#9cb9c1">2rd</span>
</div>
<div class="row" style="top:34px">
<span class="cb"><i></i></span>
<span class="nm" style="background:#9cb9c1">ldi</span>
</div>
<div class="row" style="top:50px">
<span class="cb"><i></i></span>
<span class="nm" style="background:#dcdcdc">rout</span>
</div>
</div>
<div class="lay" style="top:300px;height:146px">
<div class="row" style="top:2px">
<span class="cb"><i></i></span>
<span class="nm" style="background:#9fdbdb">tp</span>
</div>
<div class="row" style="top:18px">
<span class="cb"><i></i></span>
<span class="nm" style="background:#9fdbdb">bp</span>
</div>
<div class="row" style="top:34px">
<span class="cb"><i></i></span>
<span class="nm" style="background:#9fdbdb">dd</span>
</div>
<div class="row" style="top:50px">
<span class="cb"><i></i></span>
<span class="nm" style="background:#9fdbdb">ydkdrl</span>
</div>
<div class="row" style="top:66px">
<span class="cb"><i></i></span>
<span class="nm" style="background:#9fdbdb">npth</span>
</div>
<div class="row" style="top:82px">
<span class="cb"><i></i></span>
<span class="nm" style="background:#9fdbdb">datecode-bo</span>
</div>
<div class="row" style="top:98px">
<span class="cb"><i></i></span>
<span class="nm" style="background:#9fdbdb">cvia</span>
</div>
<div class="row" style="top:114px">
<span class="cb"><i></i></span>
<span class="nm" style="background:#9fdbdb">d</span>
</div>
<div class="row" style="top:130px">
<span class="cb"><i></i></span>
<span class="nm" style="background:#9fdbdb">dd000</span>
</div>
</div>
</div>
<div id="pop">
<div class="abs" style="left:0px;top:0px;width:500px;height:1px;background:#f4f2ee;"></div>
<div class="abs" style="left:0px;top:0px;width:1px;height:326px;background:#f4f2ee;"></div>
<div class="abs" style="left:1px;top:1px;width:498px;height:1px;background:#ffffff;"></div>
<div class="abs" style="left:1px;top:1px;width:1px;height:324px;background:#ffffff;"></div>
<div class="abs" style="left:499px;top:0px;width:1px;height:326px;background:#6a6a6a;"></div>
<div class="abs" style="left:0px;top:325px;width:500px;height:1px;background:#6a6a6a;"></div>
<div class="abs" style="left:498px;top:1px;width:1px;height:324px;background:#a8a49c;"></div>
<div class="abs" style="left:1px;top:324px;width:498px;height:1px;background:#a8a49c;"></div>
<div class="abs" style="left:4px;top:4px;width:491px;height:18px;background:linear-gradient(90deg,#7f7f7f 0%,#989898 40%,#b4b4b4 80%,#c4c4c4 100%);"></div>
<svg class="abs" style="left:6px;top:5px" width="16" height="16" viewBox="0 0 16 16"><rect x="0.5" y="0.5" width="15" height="14" fill="#fff"/><rect x="0" y="0" width="16" height="1" fill="#7f7f7f"/><rect x="1" y="1" width="13" height="2" fill="#0000a8"/><path d="M0 1V15H16" stroke="#fff" fill="none"/><path d="M15.5 1V15.5H0" stroke="#000" fill="none"/><path d="M4 5.500L12 12.500M12 5.500L4 12.500" stroke="#d8d800" stroke-width="1.800"/><path d="M4.500 5.500L12.500 12.500" stroke="#7f7f00" stroke-width="0.500"/></svg>
<div class="abs mono" style="left:24px;top:6px;font-size:11.6px;line-height:14px;color:#dcd8d0;letter-spacing:0px;font-family:'Liberation Mono',monospace">Popview - 1</div>
<div class="abs" style="left:478px;top:6px;width:16px;height:14px;background:#d4d0c8;border:1px solid;border-color:#fff #404040 #404040 #fff;box-shadow:inset -1px -1px 0 #808080;"></div>
<svg class="abs" style="left:478px;top:6px" width="16" height="14" viewBox="0 0 16 14"><path d="M4 3L11 10M11 3L4 10" stroke="#000" stroke-width="1.7"/></svg>
<div class="abs" style="left:4px;top:22px;width:491px;height:1px;background:#f0eee8;"></div>
<div class="abs" style="left:4px;top:23px;width:491px;height:299px;background:#000;"></div>
<div class="abs" style="left:4px;top:23px;width:455px;height:270px;background:#2f7f6c;"></div>
<div class="abs" style="left:7px;top:26px;width:452px;height:267px;background:#b8ece4;"></div>
<div class="abs" style="left:7px;top:26px;width:449px;height:263.5px;background:#000;"></div>
<svg class="abs" style="left:7px;top:26px" width="449" height="264" viewBox="171 56 449 264">
<rect x="171" y="56" width="449" height="264" fill="#000"/>
<g fill="#449900">
<path d="M433 56H470V87H620V123H447A14 14 0 0 1 433 109Z"/>
<rect x="231" y="88" width="31" height="28"/><rect x="273" y="88" width="30" height="28"/>
<circle cx="173" cy="247.5" r="10.5"/><circle cx="203" cy="247.5" r="10.5"/><circle cx="236" cy="247.5" r="10.5"/><circle cx="271" cy="247.5" r="10.5"/><circle cx="310" cy="247.5" r="10.5"/>
<circle cx="198.5" cy="275.5" r="10.5"/><circle cx="173" cy="293" r="10.5"/><circle cx="331" cy="268" r="10.5"/><circle cx="366" cy="275.5" r="10.5"/>
<circle cx="403.5" cy="275.5" r="10.5"/><circle cx="438.5" cy="275.5" r="10.5"/><circle cx="482.5" cy="275.5" r="10.5"/>
<circle cx="606" cy="268.5" r="10.5"/><circle cx="614" cy="237" r="10.5"/>
</g>
<g fill="none" stroke="#ff0000" stroke-width="4">
<path d="M260 81H225V121H260"/><path d="M274 81H309V121H274"/>
</g>
<rect x="336" y="134" width="234" height="59" fill="#ff0000"/>
<rect x="336" y="200" width="234" height="63" fill="#00ffff"/>
<g fill="#bf6cf8" stroke="#fff" stroke-width="1.6">
<circle cx="357" cy="247.3" r="11.5"/><circle cx="403.5" cy="247.3" r="11.5"/><circle cx="440.5" cy="247.3" r="11.5"/><circle cx="475.5" cy="247.3" r="11.5"/><circle cx="512.5" cy="247.3" r="11.5"/>
</g>
<clipPath id="cpc"><rect x="336" y="200" width="234" height="63"/></clipPath>
<g clip-path="url(#cpc)"><circle cx="331" cy="268" r="11.5" fill="#bf6cf8" stroke="#fff" stroke-width="1.6"/><circle cx="577" cy="247.3" r="11.5" fill="#bf6cf8" stroke="#fff" stroke-width="1.6"/></g>
<g fill="#449900"><circle cx="578" cy="247.3" r="10.5"/><circle cx="331" cy="268" r="10.5"/></g>
<g fill="none">
<circle cx="267.5" cy="368.5" r="91.5" stroke="#ff0000" stroke-width="5"/>
<circle cx="267.5" cy="368.5" r="75.5" stroke="#449900" stroke-width="5.4"/>
<circle cx="551" cy="367.7" r="91.5" stroke="#ff0000" stroke-width="5"/>
<circle cx="551" cy="368.5" r="75.5" stroke="#449900" stroke-width="5.4"/>
</g>
<g fill="#ff0000" stroke="#ff0000" stroke-width="0.9" font-family="Liberation Sans, sans-serif">
<text x="266" y="76" font-size="25.5" textLength="30" lengthAdjust="spacingAndGlyphs">R11</text>
<text x="271" y="180" font-size="31" textLength="40" lengthAdjust="spacingAndGlyphs">S/N:</text>
<text x="271" y="220.5" font-size="29" textLength="47" lengthAdjust="spacingAndGlyphs">Date:</text>
<text x="350" y="309.5" font-size="29" textLength="127.5" lengthAdjust="spacingAndGlyphs">TZ7.820.1526</text>
<text x="359" y="334.2" font-size="29" textLength="92" lengthAdjust="spacingAndGlyphs">20160325</text>
</g>

</svg>
<div class="tb" style="top:25px"><b></b><svg width="21" height="21" viewBox="0 0 19 19"><rect x="0.5" y="0.5" width="18" height="18" fill="none" stroke="#000"/><rect x="3" y="6" width="8" height="9" fill="none" stroke="#000" stroke-width="2"/><path d="M9 10.5H6M7.5 8.5L5.5 10.5L7.5 12.5" stroke="#000" fill="none" stroke-width="1.2"/><rect x="13" y="3" width="3.5" height="4" fill="none" stroke="#000"/><path d="M11 9H15V7" stroke="#000" fill="none"/></svg></div>
<div class="tb" style="top:60px"><b></b><svg width="21" height="21" viewBox="0 0 19 19"><rect x="0.5" y="0.5" width="18" height="18" fill="none" stroke="#000"/><path d="M3 9V16H16V9H14V14H5V9Z" fill="#000"/><path d="M9.5 2.5L14 7H12V12H7V7H5Z" fill="#000"/></svg></div>
<div class="tb" style="top:95px"><b></b><svg width="21" height="21" viewBox="0 0 19 19"><rect x="0.5" y="0.5" width="18" height="18" fill="none" stroke="#000"/><path d="M3 10V3H16V10H14V5H5V10Z" fill="#000"/><path d="M9.5 16.5L14 12H12V7H7V12H5Z" fill="#000"/></svg></div>
<div class="tb" style="top:130px"><b></b><svg width="21" height="21" viewBox="0 0 19 19"><rect x="0.5" y="0.5" width="18" height="18" fill="none" stroke="#000"/><path d="M9 3H16V16H9V14H14V5H9Z" fill="#000"/><path d="M2.5 9.5L7 5V7H12V12H7V14Z" fill="#000"/></svg></div>
<div class="tb" style="top:165px"><b></b><svg width="21" height="21" viewBox="0 0 19 19"><rect x="0.5" y="0.5" width="18" height="18" fill="none" stroke="#000"/><path d="M10 3H3V16H10V14H5V5H10Z" fill="#000"/><path d="M16.5 9.5L12 5V7H7V12H12V14Z" fill="#000"/></svg></div>
<div class="tb" style="top:200px"><b></b><svg width="21" height="21" viewBox="0 0 19 19"><rect x="0.5" y="0.5" width="18" height="18" fill="none" stroke="#000"/><rect x="7.5" y="7.5" width="4" height="4" fill="none" stroke="#000" stroke-width="1.4"/><path d="M1.5 1.5L6 6M17.5 1.5L13 6M1.5 17.5L6 13M17.5 17.5L13 13" stroke="#000" stroke-width="1.2"/><path d="M7 7V2.500L2.500 7ZM12 7V2.500L16.500 7ZM7 12V16.500L2.500 12ZM12 12V16.500L16.500 12Z" fill="#000"/></svg></div>
<div class="tb" style="top:235px"><b></b><svg width="21" height="21" viewBox="0 0 19 19"><rect x="0.5" y="0.5" width="18" height="18" fill="none" stroke="#000"/><rect x="7.5" y="7.5" width="4" height="4" fill="none" stroke="#000" stroke-width="1.4"/><path d="M9.5 1.5L13 5H6ZM9.5 17.5L13 14H6ZM1.5 9.5L5 6V13ZM17.5 9.5L14 6V13Z" fill="#000"/><path d="M9.5 5V7M9.5 12V14M5 9.5H7M12 9.5H14" stroke="#000" stroke-width="1.4"/></svg></div>
<div class="abs" style="left:461px;top:270px;width:34px;height:22px;background:#58ceb0;"></div>
<div class="abs" style="left:4px;top:294px;width:491px;height:27px;background:#58ceb0;"></div>
<div class="abs" style="left:7px;top:296px;width:486px;height:23px;background:#9fdbdb;border:2px solid;border-color:#d8f4f4 #5f8f8f #5f8f8f #d8f4f4;"></div>
<div class="abs mono" style="left:7px;top:300px;width:486px;text-align:center;font-size:14.4px;line-height:17px">Close</div>
</div>
<style>
#xl .l{font-family:"Liberation Mono",monospace;letter-spacing:-1.6px;font-weight:400;}
#xl .c{position:absolute;font:500 16px/16px "Noto Serif CJK SC","Liberation Mono",serif;color:#000;white-space:nowrap;height:16px;}
#xl .rh{position:absolute;left:4px;width:32px;text-align:center;font:16px/16px "Liberation Mono",monospace;letter-spacing:-1.6px;color:#1f3b3b;}
#xl .grp{position:absolute;border:1px solid #a9c3e6;border-radius:3px;background:linear-gradient(180deg,#dfe9f6 0,#d3e1f3 16px,#c7d9f1 17px,#cfdff4 79px,#c1d7f0 80px,#c3d9f2 100%);}
#xl .gl{position:absolute;font-size:12px;line-height:14px;color:#3e6aaa;white-space:nowrap;}
#xl .btn{position:absolute;border:1px solid #a3bde0;border-radius:3px;background:linear-gradient(180deg,#dde8f6 0,#d0dff3 45%,#c3d6ef 50%,#cfe0f5 100%);}
</style>
<div id="xl">
<div class="abs" style="left:0px;top:0px;width:752px;height:28px;background:linear-gradient(180deg,#d9e5f6 0,#dde8f7 8px,#e4ecf9 18px,#edf2fb 28px);"></div>
<div class="abs" style="left:0px;top:0px;width:752px;height:1px;background:#f6f9fd;"></div>
<div class="abs" style="left:0px;top:28px;width:3px;height:722px;background:#bdd3ee;"></div>
<div class="abs" style="left:3px;top:28px;width:749px;height:29px;background:#bfdbff;"></div>
<div class="abs" style="left:0px;top:27px;width:752px;height:1px;background:#b9d2f3;"></div>
<div class="abs" style="left:33px;top:6px;width:112px;height:22px;background:linear-gradient(180deg,#e3ecf8,#c9d9ee);border:1px solid #b4c8e4;border-radius:0 11px 11px 0;border-left:none;"></div>
<svg class="abs" style="left:4px;top:5px" width="42" height="42" viewBox="0 0 42 42"><defs><radialGradient id="ob" cx="50%" cy="35%" r="65%"><stop offset="0" stop-color="#ffffff"/><stop offset="0.55" stop-color="#e9e9ea"/><stop offset="1" stop-color="#b9bcc2"/></radialGradient></defs><circle cx="20.5" cy="21" r="18.5" fill="url(#ob)" stroke="#9aa3b3" stroke-width="1"/><path d="M3 22A17.5 17.5 0 0 0 38 22Z" fill="#cfd2d8" opacity="0.55"/><rect x="10" y="10" width="9" height="10" rx="2" fill="none" stroke="#e8501a" stroke-width="3"/><rect x="23" y="13" width="6" height="7" rx="1.5" fill="none" stroke="#3b8ad8" stroke-width="2.2"/><rect x="11" y="24" width="8" height="8" rx="2" fill="none" stroke="#f5b21a" stroke-width="3"/><rect x="23" y="24" width="7" height="7" rx="2" fill="none" stroke="#5aa832" stroke-width="3"/></svg>
<svg class="abs" style="left:53px;top:8px" width="110" height="18" viewBox="0 0 110 18"><rect x="2" y="2" width="14" height="14" rx="1" fill="#5a55b8"/><rect x="5" y="2.5" width="8" height="6" fill="#f4f4fa"/><rect x="5" y="11" width="7" height="5" fill="#2b2866"/><rect x="9" y="12" width="2" height="3" fill="#dcdcf0"/><path d="M27 11q0-6 5-6q4 0 4 4q0 4-3 6" fill="none" stroke="#a6b7d3" stroke-width="2.2"/><path d="M24 8l3.5 5l3-5z" fill="#a6b7d3"/><path d="M44 9l3 3.5l3-3.5z" fill="#c4b8a6"/><path d="M69 11q0-6-5-6q-4 0-4 4q0 4 3 6" fill="none" stroke="#a6b7d3" stroke-width="2.2"/><path d="M72 8l-3.500 5l-3-5z" fill="#a6b7d3"/><path d="M78 9l3 3.500l3-3.500z" fill="#c4b8a6"/><rect x="100" y="5" width="7" height="1.6" fill="#1f3f8a"/><path d="M100 8.500h7l-3.500 4z" fill="#1f3f8a"/></svg>
<div class="abs " style="left:588px;top:9px;font-size:12px;line-height:14px;color:#6b6b6b;white-space:nowrap;">2S8TP0DNA0制作单&nbsp;&nbsp;[兼容模式</div>
<div class="abs" style="left:51px;top:32px;width:47px;height:26px;background:linear-gradient(180deg,#f3f8fe,#e1ecfa 60%,#dbe7f7);border:1px solid #9db9e0;border-bottom:none;border-radius:4px 4px 0 0;"></div>
<div class="abs " style="left:61px;top:37px;font-size:12.3px;line-height:14.3px;color:#15428b;white-space:nowrap;">开始</div>
<div class="abs " style="left:115px;top:37px;font-size:12.3px;line-height:14.3px;color:#15428b;white-space:nowrap;">插入</div>
<div class="abs " style="left:168px;top:37px;font-size:12.3px;line-height:14.3px;color:#15428b;white-space:nowrap;">页面布局</div>
<div class="abs " style="left:245px;top:37px;font-size:12.3px;line-height:14.3px;color:#15428b;white-space:nowrap;">公式</div>
<div class="abs " style="left:298px;top:37px;font-size:12.3px;line-height:14.3px;color:#15428b;white-space:nowrap;">数据</div>
<div class="abs " style="left:351px;top:37px;font-size:12.3px;line-height:14.3px;color:#15428b;white-space:nowrap;">审阅</div>
<div class="abs " style="left:404px;top:37px;font-size:12.3px;line-height:14.3px;color:#15428b;white-space:nowrap;">视图</div>
<div class="abs " style="left:457px;top:37px;font-size:12.3px;line-height:14.3px;color:#15428b;white-space:nowrap;">开发工具</div>
<div class="abs " style="left:534px;top:37px;font-size:12.3px;line-height:14.3px;color:#15428b;white-space:nowrap;">加载项</div>
<div class="abs " style="left:599px;top:37px;font-size:12.3px;line-height:14.3px;color:#15428b;white-space:nowrap;letter-spacing:0.6px">Acrobat</div>
<div class="abs" style="left:3px;top:57px;width:752px;height:106px;background:linear-gradient(180deg,#dbe6f5,#cfdef3 50%,#c5d8f1);border:1px solid #8db2e3;border-radius:4px 0 0 4px;"></div>
<div class="grp" style="left:6px;top:60px;width:111px;height:99px"></div>
<div class="gl" style="left:35px;top:143px">剪贴板</div>
<svg class="abs" style="left:103px;top:144px" width="8" height="8" viewBox="0 0 8 8"><path d="M0.500 5V0.500H5" fill="none" stroke="#8ea6c8"/><rect x="3" y="3" width="4.500" height="4.500" fill="#eef3fa" stroke="#7f9ac4" stroke-width="0.8"/></svg>
<div class="grp" style="left:121px;top:60px;width:233px;height:99px"></div>
<div class="gl" style="left:218px;top:143px">字体</div>
<svg class="abs" style="left:340px;top:144px" width="8" height="8" viewBox="0 0 8 8"><path d="M0.500 5V0.500H5" fill="none" stroke="#8ea6c8"/><rect x="3" y="3" width="4.500" height="4.500" fill="#eef3fa" stroke="#7f9ac4" stroke-width="0.8"/></svg>
<div class="grp" style="left:358px;top:60px;width:228px;height:99px"></div>
<div class="gl" style="left:439px;top:143px">对齐方式</div>
<svg class="abs" style="left:572px;top:144px" width="8" height="8" viewBox="0 0 8 8"><path d="M0.500 5V0.500H5" fill="none" stroke="#8ea6c8"/><rect x="3" y="3" width="4.500" height="4.500" fill="#eef3fa" stroke="#7f9ac4" stroke-width="0.8"/></svg>
<div class="grp" style="left:590px;top:60px;width:136px;height:99px"></div>
<div class="gl" style="left:636px;top:143px">数字</div>
<svg class="abs" style="left:712px;top:144px" width="8" height="8" viewBox="0 0 8 8"><path d="M0.500 5V0.500H5" fill="none" stroke="#8ea6c8"/><rect x="3" y="3" width="4.500" height="4.500" fill="#eef3fa" stroke="#7f9ac4" stroke-width="0.8"/></svg>
<div class="grp" style="left:730px;top:60px;width:40px;height:99px"></div>
<svg class="abs" style="left:17px;top:63px" width="28" height="32" viewBox="0 0 28 32"><rect x="1.500" y="4" width="20" height="24" rx="1.500" fill="#f0c26a" stroke="#c99a3c"/><rect x="7" y="1.500" width="9" height="5" rx="1" fill="#e8e8e8" stroke="#8a8a8a" stroke-width="0.8"/><path d="M10 11h11l5 5v14h-16z" fill="#fdfdfd" stroke="#9aa6b8" stroke-width="0.9"/><path d="M12.500 18h11M12.500 20.500h11M12.500 23h11M12.500 25.500h11M12.500 15.500h7" stroke="#c4cbd6" stroke-width="0.9"/></svg>
<div class="abs " style="left:17px;top:102px;font-size:12.3px;line-height:14.3px;color:#15428b;white-space:nowrap;">粘贴</div>
<svg class="abs" style="left:27px;top:123px" width="8" height="5" viewBox="0 0 8 5"><path d="M0.500 0.500h6l-3 3.500z" fill="#5a7fb8"/></svg>
<svg class="abs" style="left:56px;top:64px" width="14" height="60" viewBox="0 0 14 60"><path d="M4 1l3 8M10 1l-3 8" stroke="#55596a" stroke-width="1.400" fill="none"/><circle cx="4.500" cy="11.500" r="2.300" fill="none" stroke="#2d56b0" stroke-width="1.600"/><circle cx="9.500" cy="11.500" r="2.300" fill="none" stroke="#2d56b0" stroke-width="1.600"/><rect x="1" y="23" width="7" height="9" fill="#fff" stroke="#6d7fa3" stroke-width="0.8"/><rect x="5" y="26" width="8" height="10" fill="#eef3fb" stroke="#3b62b5" stroke-width="0.9"/><path d="M6.500 29h5M6.500 31h5M6.500 33h5" stroke="#3b62b5" stroke-width="0.8"/><path d="M11 46l-5 6l-4 4l3 1l3-4z" fill="#d8d8d8" stroke="#b0b0b0" stroke-width="0.7"/><path d="M9 45l3 2" stroke="#b8b8b8" stroke-width="2"/></svg>
<div class="abs " style="left:74px;top:64px;font-size:12.3px;line-height:14.3px;color:#15428b;white-space:nowrap;font-weight:500">剪切</div>
<div class="abs " style="left:74px;top:86px;font-size:12.3px;line-height:14.3px;color:#15428b;white-space:nowrap;font-weight:500">复制</div>
<div class="abs " style="left:74px;top:108px;font-size:12.3px;line-height:14.3px;color:#8e8e8e;white-space:nowrap;">格式刷</div>
<div class="abs" style="left:125px;top:71px;width:131px;height:25px;background:#eaf2fb;border:1px solid #b1c8e6;border-right-color:#c8d9ee;"></div>
<div class="abs" style="left:256px;top:71px;width:47px;height:25px;background:#eaf2fb;border:1px solid #b1c8e6;border-left:none;"></div>
<div class="abs " style="left:128px;top:76px;font-size:12.3px;line-height:14.3px;color:#000;white-space:nowrap;">宋体</div>
<div class="abs " style="left:259px;top:76px;font-size:12.3px;line-height:14.3px;color:#000;white-space:nowrap;">12</div>
<svg class="abs" style="left:244px;top:81px" width="60" height="6" viewBox="0 0 60 6"><path d="M0.500 0.500h6l-3 3.500z" fill="#4e6fa6"/><path d="M47.500 0.500h6l-3 3.500z" fill="#4e6fa6"/></svg>
<div class="btn" style="left:307px;top:71px;width:44px;height:22px"></div>
<svg class="abs" style="left:307px;top:71px" width="44" height="22" viewBox="0 0 44 22"><text x="4" y="17" font-family="Liberation Serif,serif" font-weight="bold" font-size="16" fill="#3a3a3a">A</text><path d="M15 6l2.500-3l2.500 3z" fill="#3a62a8"/><text x="27" y="17" font-family="Liberation Serif,serif" font-weight="bold" font-size="13" fill="#3a3a3a">A</text><path d="M36 3l2.500 3l2.500-3z" fill="#3a62a8"/><path d="M22 1v20" stroke="#b9cde9" stroke-width="0.8"/></svg>
<div class="btn" style="left:125px;top:107px;width:80px;height:22px"></div>
<svg class="abs" style="left:125px;top:107px" width="80" height="22" viewBox="0 0 80 22"><text x="6" y="16.500" font-family="Liberation Serif,serif" font-weight="bold" font-size="14.500" fill="#111">B</text><text x="30" y="16.500" font-family="Liberation Serif,serif" font-weight="bold" font-style="italic" font-size="14.500" fill="#111">I</text><text x="52" y="16" font-family="Liberation Serif,serif" font-weight="bold" font-size="14" fill="#111">U</text><path d="M52 18h10" stroke="#111" stroke-width="1.200"/><path d="M70 9.500h5l-2.500 3z" fill="#4e6fa6"/><path d="M22.500 1v20M46.500 1v20" stroke="#bdd0ea" stroke-width="0.8"/></svg>
<div class="btn" style="left:208px;top:107px;width:35px;height:22px"></div>
<svg class="abs" style="left:208px;top:107px" width="35" height="22" viewBox="0 0 35 22"><path d="M6 5h13M6 10.500h13M6 5v11M12.500 5v11M19 5v11" stroke="#b3bccb" stroke-width="0.9" stroke-dasharray="1 1"/><path d="M5.500 16.500h14" stroke="#7a8598" stroke-width="1.400"/><path d="M26 9.500h5l-2.500 3z" fill="#c2b6a4"/></svg>
<div class="btn" style="left:247px;top:107px;width:66px;height:22px"></div>
<svg class="abs" style="left:247px;top:107px" width="66" height="22" viewBox="0 0 66 22"><path d="M8 12l6-7l5 5l-6 6z" fill="#f2f2f2" stroke="#9a9a9a" stroke-width="0.9"/><path d="M13 4l1.500-1.500l2 2" fill="none" stroke="#8a8a8a"/><rect x="4" y="15.500" width="16" height="3.500" fill="#8c8c84"/><path d="M25 9.500h5l-2.500 3z" fill="#c2b6a4"/><text x="38" y="14.500" font-family="Liberation Serif,serif" font-weight="bold" font-size="15" fill="#1f3f94">A</text><rect x="36" y="15.500" width="16" height="3.500" fill="#ee1111"/><path d="M57 9.500h5l-2.500 3z" fill="#4e6fa6"/><path d="M32.500 1v20" stroke="#bdd0ea" stroke-width="0.8"/></svg>
<div class="btn" style="left:316px;top:107px;width:35px;height:22px"></div>
<div class="abs " style="left:321px;top:108px;font-size:7.5px;line-height:9.5px;color:#9aa3b3;white-space:nowrap;font-family:'Liberation Sans',sans-serif">wén</div>
<div class="abs " style="left:320px;top:113px;font-size:13px;line-height:15px;color:#9aa3b3;white-space:nowrap;">文</div>
<svg class="abs" style="left:341px;top:116px" width="6" height="4" viewBox="0 0 6 4"><path d="M0 0h5l-2.500 3z" fill="#4e6fa6"/></svg>
<div class="btn" style="left:362px;top:71px;width:69px;height:22px"></div>
<svg class="abs" style="left:368px;top:75px" width="12" height="14" viewBox="0 0 12 14"><rect x="0" y="0.0" width="12" height="1.100" fill="#5b6470"/><rect x="0" y="2.5" width="12" height="1.100" fill="#5b6470"/><rect x="0" y="5.0" width="12" height="1.100" fill="#5b6470"/></svg>
<svg class="abs" style="left:391px;top:79px" width="12" height="14" viewBox="0 0 12 14"><rect x="0" y="0.0" width="12" height="1.100" fill="#5b6470"/><rect x="0" y="2.5" width="12" height="1.100" fill="#5b6470"/><rect x="0" y="5.0" width="12" height="1.100" fill="#5b6470"/></svg>
<svg class="abs" style="left:414px;top:82px" width="12" height="14" viewBox="0 0 12 14"><rect x="0" y="0.0" width="12" height="1.100" fill="#5b6470"/><rect x="0" y="2.5" width="12" height="1.100" fill="#5b6470"/><rect x="0" y="5.0" width="12" height="1.100" fill="#5b6470"/></svg>
<div class="btn" style="left:434px;top:71px;width:32px;height:22px"></div>
<svg class="abs" style="left:434px;top:71px" width="32" height="22" viewBox="0 0 32 22"><g transform="rotate(-38 12 11)" stroke="#8f9bb0" stroke-width="1.100"><path d="M5 9h11M5 11.500h11M5 14h11"/></g><path d="M10 15l8-8" stroke="#8f9bb0"/><path d="M24 9.500h5l-2.500 3z" fill="#c2b6a4"/></svg>
<div class="abs" style="left:487px;top:73px;width:74px;height:22px;background:linear-gradient(180deg,#fbdba2 0,#fbc165 45%,#f9b347 50%,#fdd78a 100%);border:1px solid #c09440;border-radius:3px;"></div>
<svg class="abs" style="left:491px;top:76px" width="16" height="16" viewBox="0 0 16 16"><path d="M1 2h11M1 6h8M1 10h5M1 14h8" stroke="#8b8f99" stroke-width="1.300"/><path d="M10 6h3v5h-4" fill="none" stroke="#8b8f99" stroke-width="1.100"/><path d="M10 9l-2.500 2l2.500 2z" fill="#8b8f99"/></svg>
<div class="abs " style="left:509px;top:77px;font-size:12.3px;line-height:14.3px;color:#8a8f9b;white-space:nowrap;">自动换行</div>
<div class="btn" style="left:362px;top:107px;width:69px;height:22px"></div>
<svg class="abs" style="left:368px;top:111px" width="12" height="14" viewBox="0 0 12 14"><rect x="0" y="0.0" width="12" height="1.100" fill="#5b6470"/><rect x="0" y="2.5" width="8" height="1.100" fill="#5b6470"/><rect x="0" y="5.0" width="12" height="1.100" fill="#5b6470"/><rect x="0" y="7.5" width="8" height="1.100" fill="#5b6470"/><rect x="0" y="10.0" width="12" height="1.100" fill="#5b6470"/></svg>
<svg class="abs" style="left:391px;top:111px" width="12" height="14" viewBox="0 0 12 14"><rect x="0.0" y="0.0" width="12" height="1.100" fill="#5b6470"/><rect x="2.0" y="2.5" width="8" height="1.100" fill="#5b6470"/><rect x="0.0" y="5.0" width="12" height="1.100" fill="#5b6470"/><rect x="2.0" y="7.5" width="8" height="1.100" fill="#5b6470"/><rect x="0.0" y="10.0" width="12" height="1.100" fill="#5b6470"/></svg>
<svg class="abs" style="left:414px;top:111px" width="12" height="14" viewBox="0 0 12 14"><rect x="0" y="0.0" width="12" height="1.100" fill="#5b6470"/><rect x="4" y="2.5" width="8" height="1.100" fill="#5b6470"/><rect x="0" y="5.0" width="12" height="1.100" fill="#5b6470"/><rect x="4" y="7.5" width="8" height="1.100" fill="#5b6470"/><rect x="0" y="10.0" width="12" height="1.100" fill="#5b6470"/></svg>
<div class="btn" style="left:434px;top:107px;width:45px;height:22px"></div>
<svg class="abs" style="left:440px;top:111px" width="12" height="14" viewBox="0 0 12 14"><rect x="0" y="0.0" width="12" height="1.100" fill="#8f9bb0"/><rect x="5" y="2.5" width="7" height="1.100" fill="#8f9bb0"/><rect x="5" y="5.0" width="7" height="1.100" fill="#8f9bb0"/><rect x="5" y="7.5" width="7" height="1.100" fill="#8f9bb0"/><rect x="0" y="10.0" width="12" height="1.100" fill="#8f9bb0"/></svg>
<svg class="abs" style="left:462px;top:111px" width="12" height="14" viewBox="0 0 12 14"><rect x="0" y="0.0" width="12" height="1.100" fill="#8f9bb0"/><rect x="5" y="2.5" width="7" height="1.100" fill="#8f9bb0"/><rect x="5" y="5.0" width="7" height="1.100" fill="#8f9bb0"/><rect x="5" y="7.5" width="7" height="1.100" fill="#8f9bb0"/><rect x="0" y="10.0" width="12" height="1.100" fill="#8f9bb0"/></svg>
<svg class="abs" style="left:438px;top:113px" width="40" height="8" viewBox="0 0 40 8"><path d="M4 0.500v6l-3.500-3z" fill="#7a89a8"/><path d="M23 0.500v6l3.500-3z" fill="#7a89a8"/></svg>
<svg class="abs" style="left:491px;top:110px" width="16" height="16" viewBox="0 0 16 16"><rect x="0.500" y="1.500" width="15" height="13" fill="#f4f6fa" stroke="#9aa3b3"/><path d="M0.500 5.500h15M0.500 10.500h15M5.500 1.500v4M10.500 1.500v4M5.500 10.500v4M10.500 10.500v4" stroke="#9aa3b3" stroke-width="0.8"/><path d="M3 8h10M3 8l2-1.500v3zM13 8l-2-1.500v3z" stroke="#7a89a8" fill="#7a89a8" stroke-width="0.700"/></svg>
<div class="abs " style="left:509px;top:111px;font-size:12.3px;line-height:14.3px;color:#8a8f9b;white-space:nowrap;">合并后居中</div>
<svg class="abs" style="left:573px;top:116px" width="6" height="4" viewBox="0 0 6 4"><path d="M0 0h5l-2.500 3z" fill="#c2b6a4"/></svg>
<div class="abs" style="left:483px;top:73px;width:1px;height:56px;background:#b5cbe8;"></div>
<div class="abs" style="left:594px;top:71px;width:128px;height:25px;background:#ebecee;border:1px solid #c3d0e4;"></div>
<div class="abs " style="left:598px;top:76px;font-size:12.3px;line-height:14.3px;color:#8a8f9b;white-space:nowrap;">常规</div>
<svg class="abs" style="left:710px;top:81px" width="6" height="4" viewBox="0 0 6 4"><path d="M0 0h5l-2.500 3z" fill="#c2b6a4"/></svg>
<div class="btn" style="left:594px;top:107px;width:80px;height:22px"></div>
<svg class="abs" style="left:594px;top:107px" width="80" height="22" viewBox="0 0 80 22"><rect x="4" y="4" width="13" height="9" fill="#c9ced8" stroke="#9aa3b3" stroke-width="0.8"/><ellipse cx="12" cy="14.500" rx="5" ry="2.500" fill="#b5bbc8" stroke="#9aa3b3" stroke-width="0.700"/><path d="M22 9.500h5l-2.500 3z" fill="#c2b6a4"/><text x="38" y="16" font-family="Liberation Sans,sans-serif" font-size="13" fill="#8a8f9b">%</text><text x="64" y="14" font-family="Liberation Serif,serif" font-weight="bold" font-size="16" fill="#8a8f9b">,</text><path d="M31.500 1v20M56.500 1v20" stroke="#bdd0ea" stroke-width="0.8"/></svg>
<div class="btn" style="left:677px;top:107px;width:45px;height:22px"></div>
<svg class="abs" style="left:677px;top:107px" width="45" height="22" viewBox="0 0 45 22"><g font-family="Liberation Sans,sans-serif" font-size="7.500" fill="#8a8f9b"><text x="8" y="9">.0</text><text x="5" y="17">.00</text><text x="28" y="9">.00</text><text x="32" y="17">.0</text></g><path d="M3 6h4M3 6l2-1.500v3z" stroke="#7a9ad0" fill="#7a9ad0" stroke-width="0.700"/><path d="M26 14h4M30 14l-2-1.500v3z" stroke="#7a9ad0" fill="#7a9ad0" stroke-width="0.700"/><path d="M22.500 1v20" stroke="#bdd0ea" stroke-width="0.8"/></svg>
<svg class="abs" style="left:740px;top:65px" width="12" height="28" viewBox="0 0 12 28"><rect x="4" y="2" width="8" height="22" fill="#eef0f4" stroke="#c3c8d2" stroke-width="0.8"/><path d="M4 7.500h8M4 13h8M4 18.500h8M9.500 2v22" stroke="#c3c8d2" stroke-width="0.8"/><rect x="9.500" y="2" width="3" height="22" fill="#aab3c6"/></svg>
<div class="abs " style="left:735px;top:102px;font-size:12.3px;line-height:14.3px;color:#8a8f9b;white-space:nowrap;">条件</div>
<div class="abs" style="left:3px;top:163px;width:749px;height:26px;background:#d6e3f5;"></div>
<div class="abs" style="left:3px;top:164px;width:749px;height:1px;background:#a4bde0;"></div>
<div class="abs" style="left:4px;top:165px;width:748px;height:19px;background:#fff;"></div>
<div class="abs" style="left:3px;top:184px;width:749px;height:1px;background:#a4bde0;"></div>
<div class="abs" style="left:4px;top:185px;width:748px;height:3px;background:#fff;"></div>
<div class="abs" style="left:3px;top:188px;width:749px;height:1px;background:#9eb6ce;"></div>
<div class="c" style="left:61px;top:167px;font-size:15px"><span class="l" style="letter-spacing:-1.500px">B24</span></div>
<svg class="abs" style="left:146px;top:173px" width="9" height="6" viewBox="0 0 9 6"><path d="M0.500 0.500h8l-4 4.500z" fill="#000"/></svg>
<div class="abs" style="left:163px;top:165px;width:78px;height:19px;background:linear-gradient(180deg,#f2f6fc,#d5e2f4);border:1px solid #9bb6db;border-radius:10px 0 0 10px;"></div>
<svg class="abs" style="left:165px;top:166px" width="76" height="18" viewBox="0 0 76 18"><circle cx="6.500" cy="8.500" r="3" fill="#a9a9a9"/><circle cx="6" cy="8" r="1.500" fill="#d0d0d0"/><path d="M17 4.500l8 8M25 4.500l-8 8" stroke="#4a4a4a" stroke-width="2"/><path d="M33 9l3.500 4l6-9" fill="none" stroke="#4a4a4a" stroke-width="2.200"/><text x="50" y="13.500" font-family="Liberation Serif,serif" font-style="italic" font-weight="bold" font-size="14" fill="#5a5a5a">f</text><text x="55.500" y="14" font-family="Liberation Serif,serif" font-style="italic" font-weight="bold" font-size="9" fill="#5a5a5a">x</text></svg>
<div class="abs" style="left:241px;top:165px;width:1px;height:19px;background:#9bb6db;"></div>
<div class="c" style="left:249px;top:167px;font-size:15px">示字符白油块在过孔上面的删除开窗按照盘中孔塞孔制作</div>
<div class="abs" style="left:3px;top:189px;width:749px;height:19px;background:linear-gradient(180deg,#f6f9fc 0,#e8eef7 45%,#dde6f2 55%,#d6e0ee 100%);"></div>
<div class="abs" style="left:3px;top:189px;width:33px;height:19px;background:#b9cdea;"></div>
<svg class="abs" style="left:20px;top:194px" width="13" height="11" viewBox="0 0 13 11"><path d="M12 0v10.500h-11.500z" fill="#e4ebf5"/><path d="M12.500 0v11h-12" fill="none" stroke="#fff" stroke-width="0.500"/></svg>
<div class="abs" style="left:36px;top:189px;width:1px;height:19px;background:#9eb6ce;"></div>
<div class="abs" style="left:185px;top:189px;width:550px;height:19px;background:linear-gradient(180deg,#f9d9a0 0,#f7c978 50%,#f4bc5c 100%);"></div>
<div class="abs" style="left:185px;top:189px;width:1px;height:19px;background:#c28a30;"></div>
<div class="abs" style="left:734px;top:189px;width:1px;height:19px;background:#c28a30;"></div>
<div class="abs" style="left:3px;top:207px;width:749px;height:1px;background:#9eb6ce;"></div>
<div class="abs" style="left:185px;top:207px;width:550px;height:1px;background:#c28a30;"></div>
<div class="c" style="left:106px;top:192px;color:#262626"><span class="l">A</span></div>
<div class="c" style="left:455px;top:192px;color:#262626"><span class="l">B</span></div>
<div class="abs" style="left:3px;top:208px;width:749px;height:542px;background:#fff;"></div>
<div class="abs" style="left:3px;top:208px;width:33px;height:542px;background:#e4ecf7;"></div>
<div class="abs" style="left:36px;top:208px;width:1px;height:542px;background:#9eb6ce;"></div>
<div class="abs" style="left:3px;top:226px;width:33px;height:1px;background:#9eb6ce;"></div>
<div class="rh" style="top:211px">7</div>
<div class="abs" style="left:736px;top:226px;width:16px;height:1px;background:#d0d7e5;"></div>
<div class="abs" style="left:37px;top:226px;width:148px;height:1px;background:#000;"></div>
<div class="abs" style="left:185px;top:226px;width:550px;height:1px;background:#000;"></div>
<div class="abs" style="left:184px;top:207px;width:2px;height:20px;background:#000;"></div>
<div class="c" style="left:38px;top:210px"><span class="l">E</span>工号</div>
<div class="c" style="left:188px;top:210px"><span class="l">800012</span></div>
<div class="abs" style="left:3px;top:245px;width:33px;height:1px;background:#9eb6ce;"></div>
<div class="rh" style="top:230px">8</div>
<div class="abs" style="left:736px;top:245px;width:16px;height:1px;background:#d0d7e5;"></div>
<div class="abs" style="left:37px;top:245px;width:148px;height:1px;background:#000;"></div>
<div class="abs" style="left:185px;top:245px;width:550px;height:1px;background:#000;"></div>
<div class="abs" style="left:184px;top:226px;width:2px;height:20px;background:#000;"></div>
<div class="c" style="left:38px;top:229px">订单类型</div>
<div class="c" style="left:188px;top:229px">新单<span class="l">(</span>合拼<span class="l">)(</span>内部制作<span class="l">)</span></div>
<div class="abs" style="left:3px;top:264px;width:33px;height:1px;background:#9eb6ce;"></div>
<div class="rh" style="top:249px">9</div>
<div class="abs" style="left:736px;top:264px;width:16px;height:1px;background:#d0d7e5;"></div>
<div class="abs" style="left:37px;top:264px;width:148px;height:1px;background:#000;"></div>
<div class="abs" style="left:185px;top:264px;width:550px;height:1px;background:#000;"></div>
<div class="abs" style="left:184px;top:245px;width:2px;height:20px;background:#000;"></div>
<div class="c" style="left:38px;top:248px">合同序号</div>
<div class="c" style="left:188px;top:248px"><span class="l">-2.01603E+11</span></div>
<div class="abs" style="left:3px;top:283px;width:33px;height:1px;background:#9eb6ce;"></div>
<div class="rh" style="top:268px">10</div>
<div class="abs" style="left:736px;top:283px;width:16px;height:1px;background:#d0d7e5;"></div>
<div class="abs" style="left:37px;top:283px;width:148px;height:1px;background:#000;"></div>
<div class="abs" style="left:185px;top:283px;width:550px;height:1px;background:#000;"></div>
<div class="abs" style="left:184px;top:264px;width:2px;height:20px;background:#000;"></div>
<div class="c" style="left:38px;top:267px">文件名称</div>
<div class="c" style="left:188px;top:267px"><span class="l">TZ7.820.1526</span></div>
<div class="abs" style="left:3px;top:302px;width:33px;height:1px;background:#9eb6ce;"></div>
<div class="rh" style="top:287px">11</div>
<div class="abs" style="left:736px;top:302px;width:16px;height:1px;background:#d0d7e5;"></div>
<div class="abs" style="left:37px;top:302px;width:148px;height:1px;background:#000;"></div>
<div class="abs" style="left:185px;top:302px;width:550px;height:1px;background:#000;"></div>
<div class="abs" style="left:184px;top:283px;width:2px;height:20px;background:#000;"></div>
<div class="c" style="left:38px;top:286px">下单时间</div>
<div class="c" style="left:188px;top:286px"><span class="l">2016/3/25 14:43</span></div>
<div class="abs" style="left:3px;top:321px;width:33px;height:1px;background:#9eb6ce;"></div>
<div class="rh" style="top:306px">12</div>
<div class="abs" style="left:736px;top:321px;width:16px;height:1px;background:#d0d7e5;"></div>
<div class="abs" style="left:37px;top:321px;width:148px;height:1px;background:#000;"></div>
<div class="abs" style="left:185px;top:321px;width:550px;height:1px;background:#000;"></div>
<div class="abs" style="left:184px;top:302px;width:2px;height:20px;background:#000;"></div>
<div class="c" style="left:38px;top:305px">交货日期</div>
<div class="c" style="left:188px;top:305px"><span class="l">2016/3/31 17:00</span></div>
<div class="abs" style="left:3px;top:340px;width:33px;height:1px;background:#9eb6ce;"></div>
<div class="rh" style="top:325px">13</div>
<div class="abs" style="left:736px;top:340px;width:16px;height:1px;background:#d0d7e5;"></div>
<div class="abs" style="left:37px;top:340px;width:148px;height:1px;background:#000;"></div>
<div class="abs" style="left:185px;top:340px;width:550px;height:1px;background:#000;"></div>
<div class="abs" style="left:184px;top:321px;width:2px;height:20px;background:#000;"></div>
<div class="c" style="left:38px;top:324px">交货数量</div>
<div class="c" style="left:188px;top:324px"><span class="l">3</span></div>
<div class="abs" style="left:3px;top:359px;width:33px;height:1px;background:#9eb6ce;"></div>
<div class="rh" style="top:344px">14</div>
<div class="abs" style="left:736px;top:359px;width:16px;height:1px;background:#d0d7e5;"></div>
<div class="abs" style="left:37px;top:359px;width:148px;height:1px;background:#000;"></div>
<div class="abs" style="left:185px;top:359px;width:550px;height:1px;background:#000;"></div>
<div class="abs" style="left:184px;top:340px;width:2px;height:20px;background:#000;"></div>
<div class="c" style="left:38px;top:343px">交货面积</div>
<div class="c" style="left:188px;top:343px"><span class="l">0.054</span></div>
<div class="abs" style="left:3px;top:378px;width:33px;height:1px;background:#9eb6ce;"></div>
<div class="rh" style="top:363px">15</div>
<div class="abs" style="left:736px;top:378px;width:16px;height:1px;background:#d0d7e5;"></div>
<div class="abs" style="left:37px;top:378px;width:148px;height:1px;background:#000;"></div>
<div class="abs" style="left:185px;top:378px;width:550px;height:1px;background:#000;"></div>
<div class="abs" style="left:184px;top:359px;width:2px;height:20px;background:#000;"></div>
<div class="c" style="left:38px;top:362px">交货单位</div>
<div class="c" style="left:188px;top:362px"><span class="l">Unit</span></div>
<div class="abs" style="left:3px;top:397px;width:33px;height:1px;background:#9eb6ce;"></div>
<div class="rh" style="top:382px">16</div>
<div class="abs" style="left:736px;top:397px;width:16px;height:1px;background:#d0d7e5;"></div>
<div class="abs" style="left:37px;top:397px;width:148px;height:1px;background:#000;"></div>
<div class="abs" style="left:185px;top:397px;width:550px;height:1px;background:#000;"></div>
<div class="c" style="left:38px;top:381px">订单录入备注</div>
<div class="abs" style="left:3px;top:416px;width:33px;height:1px;background:#9eb6ce;"></div>
<div class="rh" style="top:401px">17</div>
<div class="abs" style="left:736px;top:416px;width:16px;height:1px;background:#d0d7e5;"></div>
<div class="abs" style="left:37px;top:416px;width:148px;height:1px;background:#000;"></div>
<div class="abs" style="left:185px;top:416px;width:550px;height:1px;background:#000;"></div>
<div class="c" style="left:38px;top:400px">客户需求报告录入</div>
<div class="abs" style="left:3px;top:435px;width:33px;height:1px;background:#9eb6ce;"></div>
<div class="rh" style="top:420px">18</div>
<div class="abs" style="left:736px;top:435px;width:16px;height:1px;background:#d0d7e5;"></div>
<div class="abs" style="left:37px;top:435px;width:148px;height:1px;background:#000;"></div>
<div class="abs" style="left:185px;top:435px;width:550px;height:1px;background:#000;"></div>
<div class="abs" style="left:184px;top:416px;width:2px;height:20px;background:#000;"></div>
<div class="c" style="left:38px;top:419px">客户工程资料录入</div>
<div class="c" style="left:188px;top:419px"><span class="l">lhd</span></div>
<div class="abs" style="left:3px;top:454px;width:33px;height:1px;background:#9eb6ce;"></div>
<div class="rh" style="top:439px">19</div>
<div class="abs" style="left:736px;top:454px;width:16px;height:1px;background:#d0d7e5;"></div>
<div class="abs" style="left:37px;top:454px;width:148px;height:1px;background:#000;"></div>
<div class="abs" style="left:185px;top:454px;width:550px;height:1px;background:#000;"></div>
<div class="abs" style="left:184px;top:435px;width:2px;height:20px;background:#000;"></div>
<div class="c" style="left:38px;top:438px">验收标准</div>
<div class="c" style="left:188px;top:438px"><span class="l">IPC-6012 </span>Ⅱ级</div>
<div class="abs" style="left:3px;top:473px;width:33px;height:1px;background:#9eb6ce;"></div>
<div class="rh" style="top:458px">20</div>
<div class="abs" style="left:736px;top:473px;width:16px;height:1px;background:#d0d7e5;"></div>
<div class="abs" style="left:37px;top:473px;width:148px;height:1px;background:#000;"></div>
<div class="abs" style="left:185px;top:473px;width:550px;height:1px;background:#000;"></div>
<div class="abs" style="left:184px;top:454px;width:2px;height:20px;background:#000;"></div>
<div class="c" style="left:38px;top:457px">快捷标记</div>
<div class="c" style="left:188px;top:457px">加<span class="l">(D1P3)</span></div>
<div class="abs" style="left:3px;top:492px;width:33px;height:1px;background:#9eb6ce;"></div>
<div class="rh" style="top:477px">21</div>
<div class="abs" style="left:736px;top:492px;width:16px;height:1px;background:#d0d7e5;"></div>
<div class="abs" style="left:37px;top:492px;width:148px;height:1px;background:#000;"></div>
<div class="abs" style="left:185px;top:492px;width:550px;height:1px;background:#000;"></div>
<div class="abs" style="left:184px;top:473px;width:2px;height:20px;background:#000;"></div>
<div class="c" style="left:38px;top:476px">客户标记</div>
<div class="c" style="left:188px;top:476px">不加</div>
<div class="abs" style="left:3px;top:511px;width:33px;height:1px;background:#9eb6ce;"></div>
<div class="rh" style="top:496px">22</div>
<div class="abs" style="left:736px;top:511px;width:16px;height:1px;background:#d0d7e5;"></div>
<div class="abs" style="left:37px;top:511px;width:148px;height:1px;background:#000;"></div>
<div class="abs" style="left:185px;top:511px;width:550px;height:1px;background:#000;"></div>
<div class="abs" style="left:184px;top:492px;width:2px;height:20px;background:#000;"></div>
<div class="c" style="left:38px;top:495px">周期标记</div>
<div class="c" style="left:188px;top:495px">加</div>
<div class="abs" style="left:3px;top:530px;width:33px;height:1px;background:#9eb6ce;"></div>
<div class="rh" style="top:515px">23</div>
<div class="abs" style="left:736px;top:530px;width:16px;height:1px;background:#d0d7e5;"></div>
<div class="abs" style="left:37px;top:530px;width:148px;height:1px;background:#000;"></div>
<div class="abs" style="left:185px;top:530px;width:550px;height:1px;background:#000;"></div>
<div class="c" style="left:38px;top:514px">出货要求</div>
<div class="abs" style="left:3px;top:530px;width:33px;height:158px;background:#ffd58d;border-top:1px solid #c28a30;border-bottom:1px solid #c28a30;"></div>
<div class="rh" style="top:672px">24</div>
<div class="abs" style="left:736px;top:687px;width:16px;height:1px;background:#d0d7e5;"></div>
<div class="abs" style="left:37px;top:687px;width:148px;height:1px;background:#000;"></div>
<div class="abs" style="left:185px;top:686px;width:550px;height:2px;background:#000;"></div>
<div class="c" style="left:38px;top:601px">工程要求</div>
<div class="abs" style="left:3px;top:706px;width:33px;height:1px;background:#9eb6ce;"></div>
<div class="rh" style="top:691px">25</div>
<div class="abs" style="left:736px;top:706px;width:16px;height:1px;background:#d0d7e5;"></div>
<div class="abs" style="left:37px;top:706px;width:148px;height:1px;background:#000;"></div>
<div class="abs" style="left:185px;top:706px;width:550px;height:1px;background:#000;"></div>
<div class="abs" style="left:184px;top:687px;width:2px;height:20px;background:#000;"></div>
<div class="c" style="left:38px;top:690px">板厚<span class="l">(mm)</span></div>
<div class="c" style="left:188px;top:690px"><span class="l">2</span></div>
<div class="abs" style="left:3px;top:725px;width:33px;height:1px;background:#9eb6ce;"></div>
<div class="rh" style="top:710px">26</div>
<div class="abs" style="left:736px;top:725px;width:16px;height:1px;background:#d0d7e5;"></div>
<div class="abs" style="left:37px;top:725px;width:148px;height:1px;background:#000;"></div>
<div class="abs" style="left:185px;top:725px;width:550px;height:1px;background:#000;"></div>
<div class="abs" style="left:184px;top:706px;width:2px;height:20px;background:#000;"></div>
<div class="c" style="left:38px;top:709px">铜箔厚度<span class="l">(OZ)</span></div>
<div class="c" style="left:188px;top:709px"><span class="l">-2</span></div>
<div class="abs" style="left:3px;top:744px;width:33px;height:1px;background:#9eb6ce;"></div>
<div class="rh" style="top:729px">27</div>
<div class="abs" style="left:736px;top:744px;width:16px;height:1px;background:#d0d7e5;"></div>
<div class="abs" style="left:37px;top:744px;width:148px;height:1px;background:#000;"></div>
<div class="abs" style="left:185px;top:744px;width:550px;height:1px;background:#000;"></div>
<div class="abs" style="left:184px;top:725px;width:2px;height:20px;background:#000;"></div>
<div class="c" style="left:38px;top:728px">成品尺寸长<span class="l">(mm)</span></div>
<div class="c" style="left:188px;top:728px"><span class="l">165</span></div>
<div class="abs" style="left:3px;top:763px;width:33px;height:1px;background:#9eb6ce;"></div>
<div class="rh" style="top:748px">28</div>
<div class="abs" style="left:736px;top:763px;width:16px;height:1px;background:#d0d7e5;"></div>
<div class="abs" style="left:37px;top:763px;width:148px;height:1px;background:#000;"></div>
<div class="abs" style="left:185px;top:763px;width:550px;height:1px;background:#000;"></div>
<div class="abs" style="left:184px;top:744px;width:2px;height:20px;background:#000;"></div>
<div class="c" style="left:38px;top:747px">成品尺寸宽<span class="l">(mm)</span></div>
<div class="c" style="left:188px;top:747px"><span class="l">120</span></div>
<div class="abs" style="left:734px;top:208px;width:2px;height:542px;background:#000;"></div>
<div class="c" style="left:188px;top:583px"><span class="l">insight </span>订单<span class="l">1.</span>完成铜厚<span class="l">3oz 2.</span>非过孔孔径公差<span class="l">+/-0.05mm 3.</span>蚀刻公差<span class="l">ipc</span>标</div>
<div class="c" style="left:188px;top:602px">准<span class="l">4.</span>若有两面盘孔等大且无电气连接的孔，按照非金属化制作<span class="l">4.</span>若有工艺边请</div>
<div class="c" style="left:188px;top:621px">加分流点<span class="l">5.</span></div>
<div class="abs" style="left:268px;top:620px;width:456px;height:18px;background:#000;"></div>
<div class="c" style="left:268px;top:621px;color:#fff">如图<span class="l">1</span>所示字符白油块在过孔上面的删除开窗按照盘中孔塞孔制作</div>
<div class="abs" style="left:232px;top:607px;width:500px;height:50px;background:transparent;border:3px solid #ffff00;box-shadow:3px 3px 3px rgba(0,0,0,0.45), inset 3px 3px 3px rgba(0,0,0,0.35);"></div>
</div>
</body>
</html>
